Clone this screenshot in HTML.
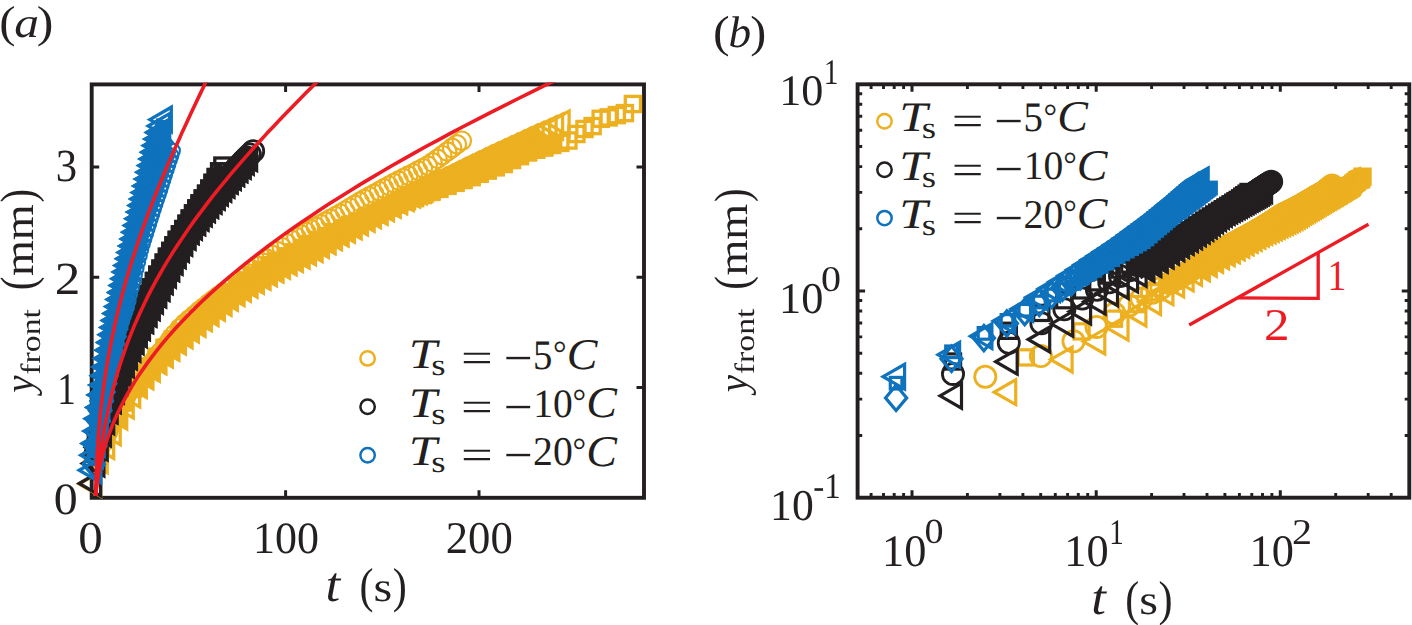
<!DOCTYPE html>
<html><head><meta charset="utf-8"><title>Freezing front</title>
<style>html,body{margin:0;padding:0;background:#fff}svg{display:block}</style>
</head><body>
<svg width="1412" height="625" viewBox="0 0 1412 625">
<defs><g id="mc"><circle r="9.2" stroke-width="2.2"/></g><g id="mC"><circle r="10.6" stroke-width="2.8"/></g><g id="mo"><circle r="6.9" stroke-width="2.1"/></g><g id="ml"><path d="M-13 0L8.5 -12.4L8.5 12.4Z"/></g><g id="ms"><rect x="-7.6" y="-7.6" width="15.2" height="15.2"/></g><g id="mS"><rect x="-5.8" y="-5.8" width="11.6" height="11.6"/></g><g id="mD"><path d="M0 -12.7L10.6 0L0 12.7L-10.6 0Z"/></g></defs>
<rect width="1412" height="625" fill="#fff"/>
<g stroke="#231f20" fill="none">
<rect x="91.7" y="84.4" width="552.3" height="413.4" stroke-width="3.9"/>
<path d="M285.6 497.8v-7.5M285.6 84.4v7.5M479 497.8v-7.5M479 84.4v7.5M91.7 387.5h7.5M644 387.5h-7.5M91.7 277.3h7.5M644 277.3h-7.5M91.7 167h7.5M644 167h-7.5" stroke-width="3"/>
</g>
<g fill="none" stroke="#ecb020" stroke-width="3.3" stroke-linejoin="miter">
<path d="M108.3 427.5L116.4 416.8L124.4 402.5L132.5 389L140.6 376.5L148.7 366.3L156.7 356.9L164.8 348L172.9 339.6L180.9 331.9L189 324.6L197.1 317.7L205.2 310.9L213.2 304.5L221.3 298.2L229.4 292.3L237.4 286.6L245.5 281.1L253.6 275.7L261.7 270.4L269.7 265.4L277.8 260.9L285.9 256.5L293.9 252.3L302 248.1L310.1 244.1L318.2 240.1L326.2 236.2L334.3 232.4L342.4 228.6L350.4 225L358.5 221.4L366.6 217.8L374.7 214.3L382.7 210.9L390.8 207.6L398.9 204.4L406.9 201.1L415 198L423.1 194.9L431.2 191.8L439.2 188.8L447.3 185.8L455.4 182.8L463.4 179.9L471.5 177L479.6 173.7L487.7 170.4L495.7 167.1L503.8 163.9L511.9 159.9L519.9 156L528 152.2L536.1 149.6L544.2 147.3L552.2 145L560.3 142.9" stroke-width="11" stroke-linejoin="round" stroke-linecap="butt"/>
<g fill="#ecb020"><use href="#ms" x="156.7" y="356.9"/><use href="#ms" x="164.8" y="348"/><use href="#ms" x="172.9" y="339.6"/><use href="#ms" x="180.9" y="331.9"/><use href="#ms" x="189" y="324.6"/><use href="#ms" x="197.1" y="317.7"/><use href="#ms" x="205.2" y="310.9"/><use href="#ms" x="213.2" y="304.5"/><use href="#ms" x="221.3" y="298.2"/><use href="#ms" x="229.4" y="292.3"/><use href="#ms" x="237.4" y="286.6"/><use href="#ms" x="245.5" y="281.1"/><use href="#ms" x="253.6" y="275.7"/><use href="#ms" x="261.7" y="270.4"/><use href="#ms" x="269.7" y="265.4"/><use href="#ms" x="277.8" y="260.9"/><use href="#ms" x="285.9" y="256.5"/><use href="#ms" x="293.9" y="252.3"/><use href="#ms" x="302" y="248.1"/><use href="#ms" x="310.1" y="244.1"/><use href="#ms" x="318.2" y="240.1"/><use href="#ms" x="326.2" y="236.2"/><use href="#ms" x="334.3" y="232.4"/><use href="#ms" x="342.4" y="228.6"/><use href="#ms" x="350.4" y="225"/><use href="#ms" x="358.5" y="221.4"/><use href="#ms" x="366.6" y="217.8"/><use href="#ms" x="374.7" y="214.3"/><use href="#ms" x="382.7" y="210.9"/><use href="#ms" x="390.8" y="207.6"/><use href="#ms" x="398.9" y="204.4"/><use href="#ms" x="406.9" y="201.1"/><use href="#ms" x="415" y="198"/><use href="#ms" x="423.1" y="194.9"/><use href="#ms" x="431.2" y="191.8"/><use href="#ms" x="439.2" y="188.8"/><use href="#ms" x="447.3" y="185.8"/><use href="#ms" x="455.4" y="182.8"/><use href="#ms" x="463.4" y="179.9"/><use href="#ms" x="471.5" y="177"/><use href="#ms" x="479.6" y="173.7"/><use href="#ms" x="487.7" y="170.4"/><use href="#ms" x="495.7" y="167.1"/><use href="#ms" x="503.8" y="163.9"/><use href="#ms" x="511.9" y="159.9"/><use href="#ms" x="519.9" y="156"/><use href="#ms" x="528" y="152.2"/><use href="#ms" x="536.1" y="149.6"/><use href="#ms" x="544.2" y="147.3"/></g>
<path d="M98.7 460.3L105.2 445.9L111.7 432.2L118.2 416.5L124.7 405.6L131.2 394.5L137.7 384.7L144.2 376.1L150.7 368.4L157.2 361.1L163.7 354.2L170.2 347.5L176.8 341.2L183.3 335.1L189.8 329.2L196.3 323.5L202.8 318L209.3 312.7L215.8 307.5L222.3 302.4L228.8 297.5L235.3 292.7L241.8 288.4L248.3 284.4L254.8 280.5L261.3 276.6L267.8 272.9L274.3 269.2L280.9 265.6L287.4 262.1L293.9 258.7L300.4 255.3L306.9 251.9L313.4 248.7L319.9 244.8L326.4 241L332.9 237.1L339.4 233.3L345.9 229.6L352.4 225.9L358.9 222.2L365.4 218.6L371.9 215L378.4 211.5L384.9 208L391.5 204.5L398 201.1L404.5 197.7L411 194.3L417.5 191L424 187.7L430.5 184.4L437 181.1L443.5 177.9L450 174.7L456.5 171.6L463 168.4L469.5 165.3L476 162.2L482.5 159.1L489 156.1L495.6 153.1L502.1 150L508.6 147L515.1 144L521.6 141L528.1 138.1L534.6 135.1L541.1 132.2" stroke-width="13" stroke-linejoin="round" stroke-linecap="butt"/>
<g fill="#ecb020"><use href="#ml" x="137.7" y="384.7"/><use href="#ml" x="144.2" y="376.1"/><use href="#ml" x="150.7" y="368.4"/><use href="#ml" x="157.2" y="361.1"/><use href="#ml" x="163.7" y="354.2"/><use href="#ml" x="170.2" y="347.5"/><use href="#ml" x="176.8" y="341.2"/><use href="#ml" x="183.3" y="335.1"/><use href="#ml" x="189.8" y="329.2"/><use href="#ml" x="196.3" y="323.5"/><use href="#ml" x="202.8" y="318"/><use href="#ml" x="209.3" y="312.7"/><use href="#ml" x="215.8" y="307.5"/><use href="#ml" x="222.3" y="302.4"/><use href="#ml" x="228.8" y="297.5"/><use href="#ml" x="235.3" y="292.7"/><use href="#ml" x="241.8" y="288.4"/><use href="#ml" x="248.3" y="284.4"/><use href="#ml" x="254.8" y="280.5"/><use href="#ml" x="261.3" y="276.6"/><use href="#ml" x="267.8" y="272.9"/><use href="#ml" x="274.3" y="269.2"/><use href="#ml" x="280.9" y="265.6"/><use href="#ml" x="287.4" y="262.1"/><use href="#ml" x="293.9" y="258.7"/><use href="#ml" x="300.4" y="255.3"/><use href="#ml" x="306.9" y="251.9"/><use href="#ml" x="313.4" y="248.7"/><use href="#ml" x="319.9" y="244.8"/><use href="#ml" x="326.4" y="241"/><use href="#ml" x="332.9" y="237.1"/><use href="#ml" x="339.4" y="233.3"/><use href="#ml" x="345.9" y="229.6"/><use href="#ml" x="352.4" y="225.9"/><use href="#ml" x="358.9" y="222.2"/><use href="#ml" x="365.4" y="218.6"/><use href="#ml" x="371.9" y="215"/><use href="#ml" x="378.4" y="211.5"/><use href="#ml" x="384.9" y="208"/><use href="#ml" x="391.5" y="204.5"/><use href="#ml" x="398" y="201.1"/><use href="#ml" x="404.5" y="197.7"/><use href="#ml" x="411" y="194.3"/><use href="#ml" x="417.5" y="191"/><use href="#ml" x="424" y="187.7"/><use href="#ml" x="430.5" y="184.4"/><use href="#ml" x="437" y="181.1"/><use href="#ml" x="443.5" y="177.9"/><use href="#ml" x="450" y="174.7"/><use href="#ml" x="456.5" y="171.6"/><use href="#ml" x="463" y="168.4"/><use href="#ml" x="469.5" y="165.3"/><use href="#ml" x="476" y="162.2"/><use href="#ml" x="482.5" y="159.1"/><use href="#ml" x="489" y="156.1"/><use href="#ml" x="495.6" y="153.1"/><use href="#ml" x="502.1" y="150"/><use href="#ml" x="508.6" y="147"/><use href="#ml" x="515.1" y="144"/><use href="#ml" x="521.6" y="141"/><use href="#ml" x="528.1" y="138.1"/></g>
<use href="#ms" x="100.2" y="445.2"/><use href="#ms" x="108.3" y="427.5"/><use href="#ms" x="116.4" y="416.8"/><use href="#ms" x="124.4" y="402.5"/><use href="#ms" x="132.5" y="389"/><use href="#ms" x="140.6" y="376.5"/><use href="#ms" x="148.7" y="366.3"/><use href="#ms" x="156.7" y="356.9"/><use href="#ms" x="164.8" y="348"/><use href="#ms" x="172.9" y="339.6"/><use href="#ms" x="180.9" y="331.9"/><use href="#ms" x="189" y="324.6"/><use href="#ms" x="197.1" y="317.7"/><use href="#ms" x="205.2" y="310.9"/><use href="#ms" x="213.2" y="304.5"/><use href="#ms" x="221.3" y="298.2"/><use href="#ms" x="229.4" y="292.3"/><use href="#ms" x="237.4" y="286.6"/><use href="#ms" x="245.5" y="281.1"/><use href="#ms" x="253.6" y="275.7"/><use href="#ms" x="261.7" y="270.4"/><use href="#ms" x="269.7" y="265.4"/><use href="#ms" x="277.8" y="260.9"/><use href="#ms" x="285.9" y="256.5"/><use href="#ms" x="293.9" y="252.3"/><use href="#ms" x="302" y="248.1"/><use href="#ms" x="310.1" y="244.1"/><use href="#ms" x="318.2" y="240.1"/><use href="#ms" x="326.2" y="236.2"/><use href="#ms" x="334.3" y="232.4"/><use href="#ms" x="342.4" y="228.6"/><use href="#ms" x="350.4" y="225"/><use href="#ms" x="358.5" y="221.4"/><use href="#ms" x="366.6" y="217.8"/><use href="#ms" x="374.7" y="214.3"/><use href="#ms" x="382.7" y="210.9"/><use href="#ms" x="390.8" y="207.6"/><use href="#ms" x="398.9" y="204.4"/><use href="#ms" x="406.9" y="201.1"/><use href="#ms" x="415" y="198"/><use href="#ms" x="423.1" y="194.9"/><use href="#ms" x="431.2" y="191.8"/><use href="#ms" x="439.2" y="188.8"/><use href="#ms" x="447.3" y="185.8"/><use href="#ms" x="455.4" y="182.8"/><use href="#ms" x="463.4" y="179.9"/><use href="#ms" x="471.5" y="177"/><use href="#ms" x="479.6" y="173.7"/><use href="#ms" x="487.7" y="170.4"/><use href="#ms" x="495.7" y="167.1"/><use href="#ms" x="503.8" y="163.9"/><use href="#ms" x="511.9" y="159.9"/><use href="#ms" x="519.9" y="156"/><use href="#ms" x="528" y="152.2"/><use href="#ms" x="536.1" y="149.6"/><use href="#ms" x="544.2" y="147.3"/><use href="#ms" x="552.2" y="145"/><use href="#ms" x="560.3" y="142.9"/><use href="#ms" x="568.4" y="140.5"/><use href="#ms" x="576.4" y="134"/><use href="#ms" x="584.5" y="129"/><use href="#ms" x="592.6" y="126.1"/><use href="#ms" x="600.7" y="118.8"/><use href="#ms" x="608.7" y="117.4"/><use href="#ms" x="616.8" y="115.1"/><use href="#ms" x="624.9" y="113.1"/><use href="#ms" x="632.9" y="104"/>
<use href="#ml" x="92.2" y="484"/><use href="#ml" x="98.7" y="460.3"/><use href="#ml" x="105.2" y="445.9"/><use href="#ml" x="111.7" y="432.2"/><use href="#ml" x="118.2" y="416.5"/><use href="#ml" x="124.7" y="405.6"/><use href="#ml" x="131.2" y="394.5"/><use href="#ml" x="137.7" y="384.7"/><use href="#ml" x="144.2" y="376.1"/><use href="#ml" x="150.7" y="368.4"/><use href="#ml" x="157.2" y="361.1"/><use href="#ml" x="163.7" y="354.2"/><use href="#ml" x="170.2" y="347.5"/><use href="#ml" x="176.8" y="341.2"/><use href="#ml" x="183.3" y="335.1"/><use href="#ml" x="189.8" y="329.2"/><use href="#ml" x="196.3" y="323.5"/><use href="#ml" x="202.8" y="318"/><use href="#ml" x="209.3" y="312.7"/><use href="#ml" x="215.8" y="307.5"/><use href="#ml" x="222.3" y="302.4"/><use href="#ml" x="228.8" y="297.5"/><use href="#ml" x="235.3" y="292.7"/><use href="#ml" x="241.8" y="288.4"/><use href="#ml" x="248.3" y="284.4"/><use href="#ml" x="254.8" y="280.5"/><use href="#ml" x="261.3" y="276.6"/><use href="#ml" x="267.8" y="272.9"/><use href="#ml" x="274.3" y="269.2"/><use href="#ml" x="280.9" y="265.6"/><use href="#ml" x="287.4" y="262.1"/><use href="#ml" x="293.9" y="258.7"/><use href="#ml" x="300.4" y="255.3"/><use href="#ml" x="306.9" y="251.9"/><use href="#ml" x="313.4" y="248.7"/><use href="#ml" x="319.9" y="244.8"/><use href="#ml" x="326.4" y="241"/><use href="#ml" x="332.9" y="237.1"/><use href="#ml" x="339.4" y="233.3"/><use href="#ml" x="345.9" y="229.6"/><use href="#ml" x="352.4" y="225.9"/><use href="#ml" x="358.9" y="222.2"/><use href="#ml" x="365.4" y="218.6"/><use href="#ml" x="371.9" y="215"/><use href="#ml" x="378.4" y="211.5"/><use href="#ml" x="384.9" y="208"/><use href="#ml" x="391.5" y="204.5"/><use href="#ml" x="398" y="201.1"/><use href="#ml" x="404.5" y="197.7"/><use href="#ml" x="411" y="194.3"/><use href="#ml" x="417.5" y="191"/><use href="#ml" x="424" y="187.7"/><use href="#ml" x="430.5" y="184.4"/><use href="#ml" x="437" y="181.1"/><use href="#ml" x="443.5" y="177.9"/><use href="#ml" x="450" y="174.7"/><use href="#ml" x="456.5" y="171.6"/><use href="#ml" x="463" y="168.4"/><use href="#ml" x="469.5" y="165.3"/><use href="#ml" x="476" y="162.2"/><use href="#ml" x="482.5" y="159.1"/><use href="#ml" x="489" y="156.1"/><use href="#ml" x="495.6" y="153.1"/><use href="#ml" x="502.1" y="150"/><use href="#ml" x="508.6" y="147"/><use href="#ml" x="515.1" y="144"/><use href="#ml" x="521.6" y="141"/><use href="#ml" x="528.1" y="138.1"/><use href="#ml" x="534.6" y="135.1"/><use href="#ml" x="541.1" y="132.2"/><use href="#ml" x="547.6" y="129.3"/><use href="#ml" x="554.1" y="126.4"/><use href="#ml" x="560.6" y="123.5"/>
<use href="#mc" x="97" y="455.3"/><use href="#mc" x="101.9" y="444.4"/><use href="#mc" x="106.8" y="434.8"/><use href="#mc" x="111.6" y="423.9"/><use href="#mc" x="116.5" y="411.9"/><use href="#mc" x="121.4" y="403.9"/><use href="#mc" x="126.2" y="396.6"/><use href="#mc" x="131.1" y="389.7"/><use href="#mc" x="135.9" y="383.3"/><use href="#mc" x="140.8" y="377.3"/><use href="#mc" x="145.7" y="370.7"/><use href="#mc" x="150.5" y="364.3"/><use href="#mc" x="155.4" y="358.2"/><use href="#mc" x="160.3" y="352.3"/><use href="#mc" x="165.1" y="346.1"/><use href="#mc" x="170" y="340"/><use href="#mc" x="174.8" y="334.1"/><use href="#mc" x="179.7" y="328.4"/><use href="#mc" x="184.6" y="323.6"/><use href="#mc" x="189.4" y="319.4"/><use href="#mc" x="194.3" y="315.2"/><use href="#mc" x="199.2" y="311.1"/><use href="#mc" x="204" y="307.2"/><use href="#mc" x="208.9" y="303.3"/><use href="#mc" x="213.8" y="299.5"/><use href="#mc" x="218.6" y="295.8"/><use href="#mc" x="223.5" y="292.2"/><use href="#mc" x="228.3" y="288.6"/><use href="#mc" x="233.2" y="284.7"/><use href="#mc" x="238.1" y="280.9"/><use href="#mc" x="242.9" y="277.1"/><use href="#mc" x="247.8" y="273.3"/><use href="#mc" x="252.7" y="269.7"/><use href="#mc" x="257.5" y="266"/><use href="#mc" x="262.4" y="262.5"/><use href="#mc" x="267.3" y="258.8"/><use href="#mc" x="272.1" y="254.9"/><use href="#mc" x="277" y="251"/><use href="#mc" x="281.8" y="247.1"/><use href="#mc" x="286.7" y="243.4"/><use href="#mc" x="291.6" y="239.8"/><use href="#mc" x="296.4" y="237.1"/><use href="#mc" x="301.3" y="234.5"/><use href="#mc" x="306.2" y="231.9"/><use href="#mc" x="311" y="229.4"/><use href="#mc" x="315.9" y="226.9"/><use href="#mc" x="320.7" y="224.2"/><use href="#mc" x="325.6" y="221.5"/><use href="#mc" x="330.5" y="218.8"/><use href="#mc" x="335.3" y="216.2"/><use href="#mc" x="340.2" y="213.5"/><use href="#mc" x="345.1" y="210.7"/><use href="#mc" x="349.9" y="207.7"/><use href="#mc" x="354.8" y="204.8"/><use href="#mc" x="359.7" y="201.9"/><use href="#mc" x="364.5" y="199.1"/><use href="#mc" x="369.4" y="196.4"/><use href="#mc" x="374.2" y="193.8"/><use href="#mc" x="379.1" y="191.1"/><use href="#mc" x="384" y="188.4"/><use href="#mc" x="388.8" y="185.7"/><use href="#mc" x="393.7" y="183"/><use href="#mc" x="398.6" y="180.5"/><use href="#mc" x="403.4" y="178.1"/><use href="#mc" x="408.3" y="175.6"/><use href="#mc" x="413.2" y="173.2"/><use href="#mc" x="418" y="170.6"/><use href="#mc" x="422.9" y="168.1"/><use href="#mc" x="427.7" y="165.6"/><use href="#mc" x="432.6" y="162.4"/><use href="#mc" x="437.5" y="158.8"/><use href="#mc" x="442.3" y="155.2"/><use href="#mc" x="447.2" y="151.5"/><use href="#mc" x="452.1" y="147.9"/><use href="#mc" x="456.9" y="144.3"/><use href="#mc" x="461.8" y="140.7"/>
</g>
<g fill="none" stroke="#231f20" stroke-width="3.3" stroke-linejoin="miter">
<path d="M95.4 463.5L98.7 447.6L101.9 433.6L105.2 421.3L108.4 410.2L111.7 399.9L114.9 390.3L118.2 381.2L121.4 372.5L124.7 364.2L127.9 356.3L131.2 348.6L134.4 341.1L137.7 333.9L140.9 326.9L144.1 320.1L147.4 313.4L150.6 306.9L153.9 300.5L157.1 294.2L160.4 287.8L163.6 281.1L166.9 274.5L170.1 267.9L173.4 261.5L176.6 255.1L179.9 248.8L183.1 242.6L186.4 236.5L189.6 231L192.9 226.5L196.1 222L199.4 217.6L202.6 213.3L205.9 209L209.1 204.8L212.4 200.6L215.6 196.5L218.8 192.5L222.1 188.5L225.3 184.5L228.6 180.6L231.8 176.7L235.1 172.9L238.3 169.1L241.6 165.4L244.8 161.7L248.1 158.1" stroke-width="13" stroke-linejoin="round" stroke-linecap="butt"/>
<g fill="#231f20"><use href="#ml" x="108.4" y="410.2"/><use href="#ml" x="111.7" y="399.9"/><use href="#ml" x="114.9" y="390.3"/><use href="#ml" x="118.2" y="381.2"/><use href="#ml" x="121.4" y="372.5"/><use href="#ml" x="124.7" y="364.2"/><use href="#ml" x="127.9" y="356.3"/><use href="#ml" x="131.2" y="348.6"/><use href="#ml" x="134.4" y="341.1"/><use href="#ml" x="137.7" y="333.9"/><use href="#ml" x="140.9" y="326.9"/><use href="#ml" x="144.1" y="320.1"/><use href="#ml" x="147.4" y="313.4"/><use href="#ml" x="150.6" y="306.9"/><use href="#ml" x="153.9" y="300.5"/><use href="#ml" x="157.1" y="294.2"/><use href="#ml" x="160.4" y="287.8"/><use href="#ml" x="163.6" y="281.1"/><use href="#ml" x="166.9" y="274.5"/><use href="#ml" x="170.1" y="267.9"/><use href="#ml" x="173.4" y="261.5"/><use href="#ml" x="176.6" y="255.1"/><use href="#ml" x="179.9" y="248.8"/><use href="#ml" x="183.1" y="242.6"/><use href="#ml" x="186.4" y="236.5"/><use href="#ml" x="189.6" y="231"/><use href="#ml" x="192.9" y="226.5"/><use href="#ml" x="196.1" y="222"/><use href="#ml" x="199.4" y="217.6"/><use href="#ml" x="202.6" y="213.3"/><use href="#ml" x="205.9" y="209"/><use href="#ml" x="209.1" y="204.8"/><use href="#ml" x="212.4" y="200.6"/><use href="#ml" x="215.6" y="196.5"/><use href="#ml" x="218.8" y="192.5"/><use href="#ml" x="222.1" y="188.5"/><use href="#ml" x="225.3" y="184.5"/><use href="#ml" x="228.6" y="180.6"/><use href="#ml" x="231.8" y="176.7"/><use href="#ml" x="235.1" y="172.9"/><use href="#ml" x="238.3" y="169.1"/><use href="#ml" x="241.6" y="165.4"/></g>
<path d="M98.7 427L101.9 411.4L105.2 398.3L108.4 386.7L111.7 376.3L115 366.8L118.2 357.9L121.5 349.6L124.7 341.7L128 334.3L131.2 327.1L134.5 320.3L137.7 313.7L141 307.4L144.2 300.7L147.5 294L150.8 287.4L154 281L157.3 274.8L160.5 268.7L163.8 262.7L167 256.8L170.3 251L173.5 245.4L176.8 239.9L180 234.4L183.3 229.1L186.6 223.8L189.8 218.6L193.1 213.5L196.3 208.5L199.6 203.5L202.8 198.6L206.1 193.8L209.3 188.7L212.6 182.9L215.8 177.1L219.1 171.3L222.4 165.6" stroke-width="11" stroke-linejoin="round" stroke-linecap="butt"/>
<g fill="#231f20"><use href="#ms" x="108.4" y="386.7"/><use href="#ms" x="111.7" y="376.3"/><use href="#ms" x="115" y="366.8"/><use href="#ms" x="118.2" y="357.9"/><use href="#ms" x="121.5" y="349.6"/><use href="#ms" x="124.7" y="341.7"/><use href="#ms" x="128" y="334.3"/><use href="#ms" x="131.2" y="327.1"/><use href="#ms" x="134.5" y="320.3"/><use href="#ms" x="137.7" y="313.7"/><use href="#ms" x="141" y="307.4"/><use href="#ms" x="144.2" y="300.7"/><use href="#ms" x="147.5" y="294"/><use href="#ms" x="150.8" y="287.4"/><use href="#ms" x="154" y="281"/><use href="#ms" x="157.3" y="274.8"/><use href="#ms" x="160.5" y="268.7"/><use href="#ms" x="163.8" y="262.7"/><use href="#ms" x="167" y="256.8"/><use href="#ms" x="170.3" y="251"/><use href="#ms" x="173.5" y="245.4"/><use href="#ms" x="176.8" y="239.9"/><use href="#ms" x="180" y="234.4"/><use href="#ms" x="183.3" y="229.1"/><use href="#ms" x="186.6" y="223.8"/><use href="#ms" x="189.8" y="218.6"/><use href="#ms" x="193.1" y="213.5"/><use href="#ms" x="196.3" y="208.5"/><use href="#ms" x="199.6" y="203.5"/><use href="#ms" x="202.8" y="198.6"/><use href="#ms" x="206.1" y="193.8"/><use href="#ms" x="209.3" y="188.7"/><use href="#ms" x="212.6" y="182.9"/><use href="#ms" x="215.8" y="177.1"/></g>
<path d="M98.6 436.1L101.9 421.1L105.1 408.4L108.3 397L111.5 386.6L114.7 377L118 368L121.2 359.6L124.4 351.5L127.6 343.9L130.8 336.5L134 329.4L137.3 322.6L140.5 316L143.7 309.6L146.9 303.3L150.1 297.3L153.4 290.8L156.6 284.4L159.8 278.2L163 272.1L166.2 266.1L169.4 260.2L172.7 254.4L175.9 248.7L179.1 243.1L182.3 237.6L185.5 232.1L188.8 226.8L192 222.4L195.2 218.1L198.4 213.8L201.6 209.6L204.8 205.5L208.1 201.5L211.3 197.5L214.5 193.5L217.7 189.6L220.9 185.8L224.1 182L227.4 178.3L230.6 174.7L233.8 171.3L237 167.8L240.2 164.4L243.5 161.1L246.7 157.7L249.9 154.5L253.1 151.2" stroke-width="14" stroke-linejoin="round" stroke-linecap="butt"/>
<g fill="#231f20"><use href="#mC" x="108.3" y="397"/><use href="#mC" x="111.5" y="386.6"/><use href="#mC" x="114.7" y="377"/><use href="#mC" x="118" y="368"/><use href="#mC" x="121.2" y="359.6"/><use href="#mC" x="124.4" y="351.5"/><use href="#mC" x="127.6" y="343.9"/><use href="#mC" x="130.8" y="336.5"/><use href="#mC" x="134" y="329.4"/><use href="#mC" x="137.3" y="322.6"/><use href="#mC" x="140.5" y="316"/><use href="#mC" x="143.7" y="309.6"/><use href="#mC" x="146.9" y="303.3"/><use href="#mC" x="150.1" y="297.3"/><use href="#mC" x="153.4" y="290.8"/><use href="#mC" x="156.6" y="284.4"/><use href="#mC" x="159.8" y="278.2"/><use href="#mC" x="163" y="272.1"/><use href="#mC" x="166.2" y="266.1"/><use href="#mC" x="169.4" y="260.2"/><use href="#mC" x="172.7" y="254.4"/><use href="#mC" x="175.9" y="248.7"/><use href="#mC" x="179.1" y="243.1"/><use href="#mC" x="182.3" y="237.6"/><use href="#mC" x="185.5" y="232.1"/><use href="#mC" x="188.8" y="226.8"/><use href="#mC" x="192" y="222.4"/><use href="#mC" x="195.2" y="218.1"/><use href="#mC" x="198.4" y="213.8"/><use href="#mC" x="201.6" y="209.6"/><use href="#mC" x="204.8" y="205.5"/><use href="#mC" x="208.1" y="201.5"/><use href="#mC" x="211.3" y="197.5"/><use href="#mC" x="214.5" y="193.5"/><use href="#mC" x="217.7" y="189.6"/><use href="#mC" x="220.9" y="185.8"/><use href="#mC" x="224.1" y="182"/><use href="#mC" x="227.4" y="178.3"/><use href="#mC" x="230.6" y="174.7"/><use href="#mC" x="233.8" y="171.3"/><use href="#mC" x="237" y="167.8"/><use href="#mC" x="240.2" y="164.4"/><use href="#mC" x="243.5" y="161.1"/><use href="#mC" x="246.7" y="157.7"/></g>
<use href="#ml" x="92.2" y="483.5"/><use href="#ml" x="95.4" y="463.5"/><use href="#ml" x="98.7" y="447.6"/><use href="#ml" x="101.9" y="433.6"/><use href="#ml" x="105.2" y="421.3"/><use href="#ml" x="108.4" y="410.2"/><use href="#ml" x="111.7" y="399.9"/><use href="#ml" x="114.9" y="390.3"/><use href="#ml" x="118.2" y="381.2"/><use href="#ml" x="121.4" y="372.5"/><use href="#ml" x="124.7" y="364.2"/><use href="#ml" x="127.9" y="356.3"/><use href="#ml" x="131.2" y="348.6"/><use href="#ml" x="134.4" y="341.1"/><use href="#ml" x="137.7" y="333.9"/><use href="#ml" x="140.9" y="326.9"/><use href="#ml" x="144.1" y="320.1"/><use href="#ml" x="147.4" y="313.4"/><use href="#ml" x="150.6" y="306.9"/><use href="#ml" x="153.9" y="300.5"/><use href="#ml" x="157.1" y="294.2"/><use href="#ml" x="160.4" y="287.8"/><use href="#ml" x="163.6" y="281.1"/><use href="#ml" x="166.9" y="274.5"/><use href="#ml" x="170.1" y="267.9"/><use href="#ml" x="173.4" y="261.5"/><use href="#ml" x="176.6" y="255.1"/><use href="#ml" x="179.9" y="248.8"/><use href="#ml" x="183.1" y="242.6"/><use href="#ml" x="186.4" y="236.5"/><use href="#ml" x="189.6" y="231"/><use href="#ml" x="192.9" y="226.5"/><use href="#ml" x="196.1" y="222"/><use href="#ml" x="199.4" y="217.6"/><use href="#ml" x="202.6" y="213.3"/><use href="#ml" x="205.9" y="209"/><use href="#ml" x="209.1" y="204.8"/><use href="#ml" x="212.4" y="200.6"/><use href="#ml" x="215.6" y="196.5"/><use href="#ml" x="218.8" y="192.5"/><use href="#ml" x="222.1" y="188.5"/><use href="#ml" x="225.3" y="184.5"/><use href="#ml" x="228.6" y="180.6"/><use href="#ml" x="231.8" y="176.7"/><use href="#ml" x="235.1" y="172.9"/><use href="#ml" x="238.3" y="169.1"/><use href="#ml" x="241.6" y="165.4"/><use href="#ml" x="244.8" y="161.7"/><use href="#ml" x="248.1" y="158.1"/>
<use href="#ms" x="95.4" y="447.5"/><use href="#ms" x="98.7" y="427"/><use href="#ms" x="101.9" y="411.4"/><use href="#ms" x="105.2" y="398.3"/><use href="#ms" x="108.4" y="386.7"/><use href="#ms" x="111.7" y="376.3"/><use href="#ms" x="115" y="366.8"/><use href="#ms" x="118.2" y="357.9"/><use href="#ms" x="121.5" y="349.6"/><use href="#ms" x="124.7" y="341.7"/><use href="#ms" x="128" y="334.3"/><use href="#ms" x="131.2" y="327.1"/><use href="#ms" x="134.5" y="320.3"/><use href="#ms" x="137.7" y="313.7"/><use href="#ms" x="141" y="307.4"/><use href="#ms" x="144.2" y="300.7"/><use href="#ms" x="147.5" y="294"/><use href="#ms" x="150.8" y="287.4"/><use href="#ms" x="154" y="281"/><use href="#ms" x="157.3" y="274.8"/><use href="#ms" x="160.5" y="268.7"/><use href="#ms" x="163.8" y="262.7"/><use href="#ms" x="167" y="256.8"/><use href="#ms" x="170.3" y="251"/><use href="#ms" x="173.5" y="245.4"/><use href="#ms" x="176.8" y="239.9"/><use href="#ms" x="180" y="234.4"/><use href="#ms" x="183.3" y="229.1"/><use href="#ms" x="186.6" y="223.8"/><use href="#ms" x="189.8" y="218.6"/><use href="#ms" x="193.1" y="213.5"/><use href="#ms" x="196.3" y="208.5"/><use href="#ms" x="199.6" y="203.5"/><use href="#ms" x="202.8" y="198.6"/><use href="#ms" x="206.1" y="193.8"/><use href="#ms" x="209.3" y="188.7"/><use href="#ms" x="212.6" y="182.9"/><use href="#ms" x="215.8" y="177.1"/><use href="#ms" x="219.1" y="171.3"/><use href="#ms" x="222.4" y="165.6"/>
<use href="#mC" x="95.4" y="454"/><use href="#mC" x="98.6" y="436.1"/><use href="#mC" x="101.9" y="421.1"/><use href="#mC" x="105.1" y="408.4"/><use href="#mC" x="108.3" y="397"/><use href="#mC" x="111.5" y="386.6"/><use href="#mC" x="114.7" y="377"/><use href="#mC" x="118" y="368"/><use href="#mC" x="121.2" y="359.6"/><use href="#mC" x="124.4" y="351.5"/><use href="#mC" x="127.6" y="343.9"/><use href="#mC" x="130.8" y="336.5"/><use href="#mC" x="134" y="329.4"/><use href="#mC" x="137.3" y="322.6"/><use href="#mC" x="140.5" y="316"/><use href="#mC" x="143.7" y="309.6"/><use href="#mC" x="146.9" y="303.3"/><use href="#mC" x="150.1" y="297.3"/><use href="#mC" x="153.4" y="290.8"/><use href="#mC" x="156.6" y="284.4"/><use href="#mC" x="159.8" y="278.2"/><use href="#mC" x="163" y="272.1"/><use href="#mC" x="166.2" y="266.1"/><use href="#mC" x="169.4" y="260.2"/><use href="#mC" x="172.7" y="254.4"/><use href="#mC" x="175.9" y="248.7"/><use href="#mC" x="179.1" y="243.1"/><use href="#mC" x="182.3" y="237.6"/><use href="#mC" x="185.5" y="232.1"/><use href="#mC" x="188.8" y="226.8"/><use href="#mC" x="192" y="222.4"/><use href="#mC" x="195.2" y="218.1"/><use href="#mC" x="198.4" y="213.8"/><use href="#mC" x="201.6" y="209.6"/><use href="#mC" x="204.8" y="205.5"/><use href="#mC" x="208.1" y="201.5"/><use href="#mC" x="211.3" y="197.5"/><use href="#mC" x="214.5" y="193.5"/><use href="#mC" x="217.7" y="189.6"/><use href="#mC" x="220.9" y="185.8"/><use href="#mC" x="224.1" y="182"/><use href="#mC" x="227.4" y="178.3"/><use href="#mC" x="230.6" y="174.7"/><use href="#mC" x="233.8" y="171.3"/><use href="#mC" x="237" y="167.8"/><use href="#mC" x="240.2" y="164.4"/><use href="#mC" x="243.5" y="161.1"/><use href="#mC" x="246.7" y="157.7"/><use href="#mC" x="249.9" y="154.5"/><use href="#mC" x="253.1" y="151.2"/>
</g>
<g fill="none" stroke="#0f72bd" stroke-width="3.3" stroke-linejoin="miter">
<path d="M93.8 458.3L95.4 441.8L97 429L98.5 418.3L100.1 408.8L101.7 400.2L103.3 392.3L104.9 384.9L106.5 378L108.1 371.5L109.6 365.1L111.2 358.9L112.8 352.9L114.4 347.2L116 341.6L117.6 336.2L119.1 331L120.7 325.9L122.3 320.9L123.9 316.1L125.5 311.4L127.1 306.8L128.7 300.8L130.2 294.2L131.8 287.7L133.4 281.3L135 274.9L136.6 268.5L138.2 262.2L139.8 256L141.3 249.8L142.9 244.2L144.5 239L146.1 233.9L147.7 228.8L149.3 223.8L150.8 218.8L152.4 213.9L154 209L155.6 204.1L157.2 199.3L158.8 194.5L160.4 189.8L161.9 184.8L163.5 179.8L165.1 174.8L166.7 169.9L168.3 165L169.9 160.2L171.5 155.4L173 150.6" stroke-width="7" stroke-linejoin="round" stroke-linecap="butt"/>
<path d="M95.4 446L97 432.6L98.5 420.9L100.1 410.5L101.7 401L103.3 392.1L104.9 383.7L106.4 375.8L108 368L109.6 359.8L111.2 351.8L112.8 344.1L114.4 336.6L115.9 329.2L117.5 322L119.1 315L120.7 308.2L122.3 301.2L123.8 294.2L125.4 287.3L127 280.5L128.6 273.8L130.2 267.2L131.8 260.7L133.3 254.2L134.9 247.8L136.5 241.2L138.1 234.7L139.7 228.2L141.3 221.8L142.8 215.4L144.4 209.1L146 202.8L147.6 196.6L149.2 190.5L150.7 184.4L152.3 178.3L153.9 172.3L155.5 166.3L157.1 160.3L158.7 154.4L160.2 148.6L161.8 142.7" stroke-width="11" stroke-linejoin="round" stroke-linecap="butt"/>
<g fill="#0f72bd"><use href="#mD" x="98.5" y="420.9"/><use href="#mD" x="100.1" y="410.5"/><use href="#mD" x="101.7" y="401"/><use href="#mD" x="103.3" y="392.1"/><use href="#mD" x="104.9" y="383.7"/><use href="#mD" x="106.4" y="375.8"/><use href="#mD" x="108" y="368"/><use href="#mD" x="109.6" y="359.8"/><use href="#mD" x="111.2" y="351.8"/><use href="#mD" x="112.8" y="344.1"/><use href="#mD" x="114.4" y="336.6"/><use href="#mD" x="115.9" y="329.2"/><use href="#mD" x="117.5" y="322"/><use href="#mD" x="119.1" y="315"/><use href="#mD" x="120.7" y="308.2"/><use href="#mD" x="122.3" y="301.2"/><use href="#mD" x="123.8" y="294.2"/><use href="#mD" x="125.4" y="287.3"/><use href="#mD" x="127" y="280.5"/><use href="#mD" x="128.6" y="273.8"/><use href="#mD" x="130.2" y="267.2"/><use href="#mD" x="131.8" y="260.7"/><use href="#mD" x="133.3" y="254.2"/><use href="#mD" x="134.9" y="247.8"/><use href="#mD" x="136.5" y="241.2"/><use href="#mD" x="138.1" y="234.7"/><use href="#mD" x="139.7" y="228.2"/><use href="#mD" x="141.3" y="221.8"/><use href="#mD" x="142.8" y="215.4"/><use href="#mD" x="144.4" y="209.1"/><use href="#mD" x="146" y="202.8"/><use href="#mD" x="147.6" y="196.6"/><use href="#mD" x="149.2" y="190.5"/><use href="#mD" x="150.7" y="184.4"/><use href="#mD" x="152.3" y="178.3"/><use href="#mD" x="153.9" y="172.3"/><use href="#mD" x="155.5" y="166.3"/><use href="#mD" x="157.1" y="160.3"/><use href="#mD" x="158.7" y="154.4"/></g>
<path d="M93.8 455.3L95.4 443.5L96.9 431.1L98.5 418.8L100.1 407.4L101.6 395L103.2 385.1L104.8 375.7L106.3 366.9L107.9 358.4L109.5 350.3L111 342.4L112.6 334.8L114.2 327.5L115.7 320.4L117.3 313.4L118.9 306.6L120.4 299.5L122 292.5L123.6 285.5L125.2 278.7L126.7 272L128.3 265.4L129.9 258.8L131.4 252.4L133 245.9L134.6 239L136.1 232.2L137.7 225.4L139.3 218.8L140.8 212.1L142.4 205.5L144 199L145.5 192.6L147.1 185.9L148.7 179.1L150.2 172.3L151.8 165.6L153.4 158.9L154.9 152.2L156.5 145.6L158.1 139.1L159.7 132.5L161.2 126L162.8 119.6" stroke-width="13" stroke-linejoin="round" stroke-linecap="butt"/>
<g fill="#0f72bd"><use href="#ml" x="95.4" y="443.5"/><use href="#ml" x="98.5" y="418.8"/><use href="#ml" x="100.1" y="407.4"/><use href="#ml" x="101.6" y="395"/><use href="#ml" x="103.2" y="385.1"/><use href="#ml" x="104.8" y="375.7"/><use href="#ml" x="106.3" y="366.9"/><use href="#ml" x="107.9" y="358.4"/><use href="#ml" x="109.5" y="350.3"/><use href="#ml" x="111" y="342.4"/><use href="#ml" x="112.6" y="334.8"/><use href="#ml" x="114.2" y="327.5"/><use href="#ml" x="115.7" y="320.4"/><use href="#ml" x="117.3" y="313.4"/><use href="#ml" x="118.9" y="306.6"/><use href="#ml" x="120.4" y="299.5"/><use href="#ml" x="122" y="292.5"/><use href="#ml" x="123.6" y="285.5"/><use href="#ml" x="125.2" y="278.7"/><use href="#ml" x="126.7" y="272"/><use href="#ml" x="128.3" y="265.4"/><use href="#ml" x="129.9" y="258.8"/><use href="#ml" x="131.4" y="252.4"/><use href="#ml" x="133" y="245.9"/><use href="#ml" x="134.6" y="239"/><use href="#ml" x="136.1" y="232.2"/><use href="#ml" x="137.7" y="225.4"/><use href="#ml" x="139.3" y="218.8"/><use href="#ml" x="140.8" y="212.1"/><use href="#ml" x="142.4" y="205.5"/><use href="#ml" x="144" y="199"/><use href="#ml" x="145.5" y="192.6"/><use href="#ml" x="147.1" y="185.9"/><use href="#ml" x="148.7" y="179.1"/><use href="#ml" x="150.2" y="172.3"/><use href="#ml" x="151.8" y="165.6"/><use href="#ml" x="153.4" y="158.9"/><use href="#ml" x="154.9" y="152.2"/><use href="#ml" x="156.5" y="145.6"/><use href="#ml" x="158.1" y="139.1"/><use href="#ml" x="159.7" y="132.5"/></g>
<use href="#mo" x="93.8" y="458.3"/><use href="#mo" x="95.4" y="441.8"/><use href="#mo" x="97" y="429"/><use href="#mo" x="98.5" y="418.3"/><use href="#mo" x="100.1" y="408.8"/><use href="#mo" x="101.7" y="400.2"/><use href="#mo" x="103.3" y="392.3"/><use href="#mo" x="104.9" y="384.9"/><use href="#mo" x="106.5" y="378"/><use href="#mo" x="108.1" y="371.5"/><use href="#mo" x="109.6" y="365.1"/><use href="#mo" x="111.2" y="358.9"/><use href="#mo" x="112.8" y="352.9"/><use href="#mo" x="114.4" y="347.2"/><use href="#mo" x="116" y="341.6"/><use href="#mo" x="117.6" y="336.2"/><use href="#mo" x="119.1" y="331"/><use href="#mo" x="120.7" y="325.9"/><use href="#mo" x="122.3" y="320.9"/><use href="#mo" x="123.9" y="316.1"/><use href="#mo" x="125.5" y="311.4"/><use href="#mo" x="127.1" y="306.8"/><use href="#mo" x="128.7" y="300.8"/><use href="#mo" x="130.2" y="294.2"/><use href="#mo" x="131.8" y="287.7"/><use href="#mo" x="133.4" y="281.3"/><use href="#mo" x="135" y="274.9"/><use href="#mo" x="136.6" y="268.5"/><use href="#mo" x="138.2" y="262.2"/><use href="#mo" x="139.8" y="256"/><use href="#mo" x="141.3" y="249.8"/><use href="#mo" x="142.9" y="244.2"/><use href="#mo" x="144.5" y="239"/><use href="#mo" x="146.1" y="233.9"/><use href="#mo" x="147.7" y="228.8"/><use href="#mo" x="149.3" y="223.8"/><use href="#mo" x="150.8" y="218.8"/><use href="#mo" x="152.4" y="213.9"/><use href="#mo" x="154" y="209"/><use href="#mo" x="155.6" y="204.1"/><use href="#mo" x="157.2" y="199.3"/><use href="#mo" x="158.8" y="194.5"/><use href="#mo" x="160.4" y="189.8"/><use href="#mo" x="161.9" y="184.8"/><use href="#mo" x="163.5" y="179.8"/><use href="#mo" x="165.1" y="174.8"/><use href="#mo" x="166.7" y="169.9"/><use href="#mo" x="168.3" y="165"/><use href="#mo" x="169.9" y="160.2"/><use href="#mo" x="171.5" y="155.4"/><use href="#mo" x="173" y="150.6"/>
<use href="#mD" x="93.8" y="464.3"/><use href="#mD" x="95.4" y="446"/><use href="#mD" x="97" y="432.6"/><use href="#mD" x="98.5" y="420.9"/><use href="#mD" x="100.1" y="410.5"/><use href="#mD" x="101.7" y="401"/><use href="#mD" x="103.3" y="392.1"/><use href="#mD" x="104.9" y="383.7"/><use href="#mD" x="106.4" y="375.8"/><use href="#mD" x="108" y="368"/><use href="#mD" x="109.6" y="359.8"/><use href="#mD" x="111.2" y="351.8"/><use href="#mD" x="112.8" y="344.1"/><use href="#mD" x="114.4" y="336.6"/><use href="#mD" x="115.9" y="329.2"/><use href="#mD" x="117.5" y="322"/><use href="#mD" x="119.1" y="315"/><use href="#mD" x="120.7" y="308.2"/><use href="#mD" x="122.3" y="301.2"/><use href="#mD" x="123.8" y="294.2"/><use href="#mD" x="125.4" y="287.3"/><use href="#mD" x="127" y="280.5"/><use href="#mD" x="128.6" y="273.8"/><use href="#mD" x="130.2" y="267.2"/><use href="#mD" x="131.8" y="260.7"/><use href="#mD" x="133.3" y="254.2"/><use href="#mD" x="134.9" y="247.8"/><use href="#mD" x="136.5" y="241.2"/><use href="#mD" x="138.1" y="234.7"/><use href="#mD" x="139.7" y="228.2"/><use href="#mD" x="141.3" y="221.8"/><use href="#mD" x="142.8" y="215.4"/><use href="#mD" x="144.4" y="209.1"/><use href="#mD" x="146" y="202.8"/><use href="#mD" x="147.6" y="196.6"/><use href="#mD" x="149.2" y="190.5"/><use href="#mD" x="150.7" y="184.4"/><use href="#mD" x="152.3" y="178.3"/><use href="#mD" x="153.9" y="172.3"/><use href="#mD" x="155.5" y="166.3"/><use href="#mD" x="157.1" y="160.3"/><use href="#mD" x="158.7" y="154.4"/><use href="#mD" x="160.2" y="148.6"/><use href="#mD" x="161.8" y="142.7"/>
<use href="#ml" x="92.2" y="470.2"/><use href="#ml" x="93.8" y="455.3"/><use href="#ml" x="95.4" y="443.5"/><use href="#ml" x="96.9" y="431.1"/><use href="#ml" x="98.5" y="418.8"/><use href="#ml" x="100.1" y="407.4"/><use href="#ml" x="101.6" y="395"/><use href="#ml" x="103.2" y="385.1"/><use href="#ml" x="104.8" y="375.7"/><use href="#ml" x="106.3" y="366.9"/><use href="#ml" x="107.9" y="358.4"/><use href="#ml" x="109.5" y="350.3"/><use href="#ml" x="111" y="342.4"/><use href="#ml" x="112.6" y="334.8"/><use href="#ml" x="114.2" y="327.5"/><use href="#ml" x="115.7" y="320.4"/><use href="#ml" x="117.3" y="313.4"/><use href="#ml" x="118.9" y="306.6"/><use href="#ml" x="120.4" y="299.5"/><use href="#ml" x="122" y="292.5"/><use href="#ml" x="123.6" y="285.5"/><use href="#ml" x="125.2" y="278.7"/><use href="#ml" x="126.7" y="272"/><use href="#ml" x="128.3" y="265.4"/><use href="#ml" x="129.9" y="258.8"/><use href="#ml" x="131.4" y="252.4"/><use href="#ml" x="133" y="245.9"/><use href="#ml" x="134.6" y="239"/><use href="#ml" x="136.1" y="232.2"/><use href="#ml" x="137.7" y="225.4"/><use href="#ml" x="139.3" y="218.8"/><use href="#ml" x="140.8" y="212.1"/><use href="#ml" x="142.4" y="205.5"/><use href="#ml" x="144" y="199"/><use href="#ml" x="145.5" y="192.6"/><use href="#ml" x="147.1" y="185.9"/><use href="#ml" x="148.7" y="179.1"/><use href="#ml" x="150.2" y="172.3"/><use href="#ml" x="151.8" y="165.6"/><use href="#ml" x="153.4" y="158.9"/><use href="#ml" x="154.9" y="152.2"/><use href="#ml" x="156.5" y="145.6"/><use href="#ml" x="158.1" y="139.1"/><use href="#ml" x="159.7" y="132.5"/><use href="#ml" x="161.2" y="126"/><use href="#ml" x="162.8" y="119.6"/>
</g>
<clipPath id="ca"><rect x="0" y="82.4" width="1412" height="415.4"/></clipPath>
<g fill="none" stroke="#ed1c24" stroke-width="3.6" stroke-linecap="butt" clip-path="url(#ca)">
<path d="M95.6 495.8L95.6 495.3L95.7 494.4L95.7 493.3L95.7 491.9L95.8 490.3L95.8 488.6L95.8 486.8L95.9 484.7L96 482.6L96 480.4L96.1 478L96.2 475.5L96.3 472.9L96.4 470.2L96.5 467.4L96.7 464.5L96.8 461.6L97 458.5L97.1 455.4L97.3 452.1L97.5 448.8L97.8 445.4L98 441.9L98.2 438.4L98.5 434.8L98.8 431.1L99.1 427.3L99.5 423.4L99.9 419.5L100.2 415.5L100.7 411.5L101.1 407.4L101.6 403.2L102.1 399L102.6 394.7L103.2 390.3L103.8 385.9L104.4 381.4L105.1 376.8L105.8 372.2L106.6 367.6L107.3 362.9L108.2 358.1L109 353.3L110 348.4L110.9 343.4L111.9 338.4L113 333.4L114.1 328.3L115.2 323.1L116.4 317.9L117.6 312.7L118.9 307.4L120.3 302L121.7 296.6L123.1 291.1L124.7 285.6L126.2 280.1L127.9 274.5L129.5 268.8L131.3 263.1L133.1 257.4L135 251.6L136.9 245.7L138.9 239.9L140.9 233.9L143 228L145.2 221.9L147.4 215.9L149.7 209.8L152.1 203.6L154.5 197.4L156.9 191.2L159.5 184.9L162.1 178.6L164.7 172.2L167.4 165.8L170.2 159.4L173 152.9L175.9 146.3L178.9 139.8L181.8 133.1L184.9 126.5L188 119.8L191.1 113.1L194.3 106.3L197.5 99.5L200.8 92.6L204.1 85.7L207.4 78.8" stroke-linejoin="round"/>
<path d="M95.4 495.8L95.5 495.3L95.6 494.4L95.7 493.3L95.8 491.9L96 490.3L96.2 488.6L96.4 486.8L96.6 484.7L96.8 482.6L97.1 480.4L97.4 478L97.7 475.5L98 472.9L98.3 470.2L98.7 467.4L99 464.5L99.4 461.6L99.8 458.5L100.3 455.4L100.7 452.1L101.2 448.8L101.7 445.4L102.2 441.9L102.8 438.4L103.4 434.8L104.1 431.1L104.7 427.3L105.4 423.4L106.2 419.5L107 415.5L107.8 411.5L108.7 407.4L109.6 403.2L110.6 399L111.6 394.7L112.7 390.3L113.9 385.9L115.1 381.4L116.4 376.8L117.7 372.2L119.1 367.6L120.6 362.9L122.1 358.1L123.8 353.3L125.5 348.4L127.3 343.4L129.2 338.4L131.2 333.4L133.2 328.3L135.4 323.1L137.7 317.9L140 312.7L142.5 307.4L145.1 302L147.7 296.6L150.5 291.1L153.4 285.6L156.4 280.1L159.6 274.5L162.8 268.8L166.2 263.1L169.7 257.4L173.3 251.6L177.1 245.7L181 239.9L185 233.9L189.1 228L193.4 221.9L197.8 215.9L202.4 209.8L207 203.6L211.8 197.4L216.8 191.2L221.9 184.9L227.1 178.6L232.4 172.2L237.9 165.8L243.5 159.4L249.3 152.9L255.1 146.3L261.1 139.8L267.2 133.1L273.5 126.5L279.8 119.8L286.3 113.1L292.9 106.3L299.5 99.5L306.3 92.6L313.2 85.7L320.1 78.8" stroke-linejoin="round"/>
<path d="M95.9 495.8L95.9 495.3L96 494.4L96.1 493.3L96.2 491.9L96.3 490.3L96.5 488.6L96.7 486.8L96.9 484.7L97.2 482.6L97.5 480.4L97.9 478L98.3 475.5L98.7 472.9L99.2 470.2L99.7 467.4L100.3 464.5L101 461.6L101.7 458.5L102.5 455.4L103.3 452.1L104.3 448.8L105.3 445.4L106.3 441.9L107.5 438.4L108.8 434.8L110.1 431.1L111.6 427.3L113.1 423.4L114.8 419.5L116.5 415.5L118.4 411.5L120.4 407.4L122.5 403.2L124.7 399L127.1 394.7L129.6 390.3L132.2 385.9L134.9 381.4L137.8 376.8L140.9 372.2L144.1 367.6L147.4 362.9L151 358.1L154.6 353.3L158.5 348.4L162.5 343.4L166.7 338.4L171.1 333.4L175.6 328.3L180.4 323.1L185.3 317.9L190.4 312.7L195.8 307.4L201.3 302L207 296.6L213 291.1L219.2 285.6L225.5 280.1L232.1 274.5L239 268.8L246 263.1L253.3 257.4L260.8 251.6L268.5 245.7L276.5 239.9L284.7 233.9L293.2 228L301.9 221.9L310.9 215.9L320.1 209.8L329.6 203.6L339.3 197.4L349.3 191.2L359.5 184.9L370 178.6L380.8 172.2L391.8 165.8L403.1 159.4L414.6 152.9L426.4 146.3L438.5 139.8L450.8 133.1L463.4 126.5L476.3 119.8L489.4 113.1L502.8 106.3L516.4 99.5L530.3 92.6L544.4 85.7L558.9 78.8" stroke-linejoin="round"/>
</g>
<g stroke="#231f20" fill="none">
<rect x="857.6" y="84.3" width="551.7" height="413.4" stroke-width="3.9"/>
<path d="M912 497.7v-7.5M912 84.3v7.5M1096.2 497.7v-7.5M1096.2 84.3v7.5M1280.3 497.7v-7.5M1280.3 84.3v7.5M857.6 291h7.5M1409.3 291h-7.5" stroke-width="3"/>
<path d="M871.1 497.7v-4.6M871.1 84.3v4.6M883.5 497.7v-4.6M883.5 84.3v4.6M894.2 497.7v-4.6M894.2 84.3v4.6M903.6 497.7v-4.6M903.6 84.3v4.6M967.4 497.7v-4.6M967.4 84.3v4.6M999.9 497.7v-4.6M999.9 84.3v4.6M1022.9 497.7v-4.6M1022.9 84.3v4.6M1040.7 497.7v-4.6M1040.7 84.3v4.6M1055.3 497.7v-4.6M1055.3 84.3v4.6M1067.6 497.7v-4.6M1067.6 84.3v4.6M1078.3 497.7v-4.6M1078.3 84.3v4.6M1087.7 497.7v-4.6M1087.7 84.3v4.6M1151.6 497.7v-4.6M1151.6 84.3v4.6M1184 497.7v-4.6M1184 84.3v4.6M1207 497.7v-4.6M1207 84.3v4.6M1224.9 497.7v-4.6M1224.9 84.3v4.6M1239.4 497.7v-4.6M1239.4 84.3v4.6M1251.8 497.7v-4.6M1251.8 84.3v4.6M1262.5 497.7v-4.6M1262.5 84.3v4.6M1271.9 497.7v-4.6M1271.9 84.3v4.6M1335.7 497.7v-4.6M1335.7 84.3v4.6M1368.2 497.7v-4.6M1368.2 84.3v4.6M1391.2 497.7v-4.6M1391.2 84.3v4.6M857.6 435.5h4.6M1409.3 435.5h-4.6M857.6 399.1h4.6M1409.3 399.1h-4.6M857.6 373.3h4.6M1409.3 373.3h-4.6M857.6 353.2h4.6M1409.3 353.2h-4.6M857.6 336.9h4.6M1409.3 336.9h-4.6M857.6 323h4.6M1409.3 323h-4.6M857.6 311h4.6M1409.3 311h-4.6M857.6 300.5h4.6M1409.3 300.5h-4.6M857.6 228.8h4.6M1409.3 228.8h-4.6M857.6 192.4h4.6M1409.3 192.4h-4.6M857.6 166.6h4.6M1409.3 166.6h-4.6M857.6 146.5h4.6M1409.3 146.5h-4.6M857.6 130.2h4.6M1409.3 130.2h-4.6M857.6 116.3h4.6M1409.3 116.3h-4.6M857.6 104.3h4.6M1409.3 104.3h-4.6M857.6 93.8h4.6M1409.3 93.8h-4.6" stroke-width="2.9"/>
</g>
<g fill="none" stroke="#ecb020" stroke-width="3.2" stroke-linejoin="miter">
<path d="M1201.9 263.5L1210.4 258.6L1218 254.3L1225 250.5L1231.4 246.9L1237.3 243.7L1242.8 240.6L1248 237.7L1252.8 235.1L1257.4 232.7L1261.7 230.3L1265.8 228.1L1269.7 226L1273.5 224.1L1277 222.4L1280.4 220.7L1283.7 219.1L1286.8 217.6L1289.8 216.2L1292.7 214.8L1295.5 213.4L1298.3 212.2L1300.9 210.9L1303.4 209.7L1305.9 208.5L1308.3 207.4L1310.6 206.2L1312.8 205.2L1315 204.1L1317.2 203.1L1319.2 202.2L1321.3 201.2L1323.2 200.3L1325.2 199.4L1327.1 198.5L1328.9 197.6L1330.7 196.8L1332.5 196L1334.2 195.1L1335.9 194.2L1337.5 193.3L1339.1 192.4L1340.7 191.5L1342.3 190.5L1343.8 189.5L1345.3 188.4L1346.7 187.8L1348.2 187.2L1349.6 186.6L1351 186.1L1352.4 185.5L1353.7 183.8L1355 182.6L1356.3 181.9L1357.6 180.2L1358.9 179.8L1360.1 179.3L1361.3 178.8L1362.5 176.7" stroke-width="11" stroke-linejoin="round" stroke-linecap="butt"/>
<g fill="#ecb020"><use href="#ms" x="1210.4" y="258.6"/><use href="#ms" x="1218" y="254.3"/><use href="#ms" x="1225" y="250.5"/><use href="#ms" x="1231.4" y="246.9"/><use href="#ms" x="1237.3" y="243.7"/><use href="#ms" x="1242.8" y="240.6"/><use href="#ms" x="1248" y="237.7"/><use href="#ms" x="1252.8" y="235.1"/><use href="#ms" x="1257.4" y="232.7"/><use href="#ms" x="1261.7" y="230.3"/><use href="#ms" x="1265.8" y="228.1"/><use href="#ms" x="1269.7" y="226"/><use href="#ms" x="1273.5" y="224.1"/><use href="#ms" x="1277" y="222.4"/><use href="#ms" x="1280.4" y="220.7"/><use href="#ms" x="1283.7" y="219.1"/><use href="#ms" x="1286.8" y="217.6"/><use href="#ms" x="1289.8" y="216.2"/><use href="#ms" x="1292.7" y="214.8"/><use href="#ms" x="1295.5" y="213.4"/><use href="#ms" x="1298.3" y="212.2"/><use href="#ms" x="1300.9" y="210.9"/><use href="#ms" x="1303.4" y="209.7"/><use href="#ms" x="1305.9" y="208.5"/><use href="#ms" x="1308.3" y="207.4"/><use href="#ms" x="1310.6" y="206.2"/><use href="#ms" x="1312.8" y="205.2"/><use href="#ms" x="1315" y="204.1"/><use href="#ms" x="1317.2" y="203.1"/><use href="#ms" x="1319.2" y="202.2"/><use href="#ms" x="1321.3" y="201.2"/><use href="#ms" x="1323.2" y="200.3"/><use href="#ms" x="1325.2" y="199.4"/><use href="#ms" x="1327.1" y="198.5"/><use href="#ms" x="1328.9" y="197.6"/><use href="#ms" x="1330.7" y="196.8"/><use href="#ms" x="1332.5" y="196"/><use href="#ms" x="1334.2" y="195.1"/><use href="#ms" x="1335.9" y="194.2"/><use href="#ms" x="1337.5" y="193.3"/><use href="#ms" x="1339.1" y="192.4"/><use href="#ms" x="1340.7" y="191.5"/><use href="#ms" x="1342.3" y="190.5"/><use href="#ms" x="1343.8" y="189.5"/><use href="#ms" x="1345.3" y="188.4"/><use href="#ms" x="1346.7" y="187.8"/><use href="#ms" x="1348.2" y="187.2"/><use href="#ms" x="1349.6" y="186.6"/><use href="#ms" x="1351" y="186.1"/><use href="#ms" x="1352.4" y="185.5"/><use href="#ms" x="1353.7" y="183.8"/><use href="#ms" x="1355" y="182.6"/><use href="#ms" x="1356.3" y="181.9"/><use href="#ms" x="1357.6" y="180.2"/><use href="#ms" x="1358.9" y="179.8"/><use href="#ms" x="1360.1" y="179.3"/></g>
<path d="M1193 272.9L1200.7 268L1207.6 263.5L1214 259.5L1220 256.1L1225.5 252.9L1230.7 250L1235.5 247.2L1240.1 244.5L1244.4 242L1248.5 239.7L1252.4 237.5L1256.2 235.3L1259.7 233.4L1263.1 231.7L1266.4 230.1L1269.5 228.5L1272.6 227L1275.5 225.6L1278.3 224.2L1281 222.8L1283.6 221.5L1286.2 220.3L1288.6 219L1291 217.8L1293.3 216.5L1295.6 215.1L1297.8 213.8L1299.9 212.5L1302 211.2L1304 210L1306 208.8L1307.9 207.6L1309.8 206.5L1311.6 205.4L1313.4 204.3L1315.2 203.2L1316.9 202.1L1318.6 201.1L1320.3 200.1L1321.9 199.1L1323.5 198.2L1325 197.2L1326.5 196.3L1328 195.4L1329.5 194.5L1330.9 193.6L1332.4 192.8L1333.7 191.9L1335.1 191.1L1336.5 190.3L1337.8 189.5L1339.1 188.7L1340.4 187.9L1341.6 187.1L1342.9 186.4L1344.1 185.6L1345.3 184.9L1346.5 184.1L1347.6 183.4L1348.8 182.7L1349.9 182L1351 181.3" stroke-width="13" stroke-linejoin="round" stroke-linecap="butt"/>
<g fill="#ecb020"><use href="#ml" x="1200.7" y="268"/><use href="#ml" x="1207.6" y="263.5"/><use href="#ml" x="1214" y="259.5"/><use href="#ml" x="1220" y="256.1"/><use href="#ml" x="1225.5" y="252.9"/><use href="#ml" x="1230.7" y="250"/><use href="#ml" x="1235.5" y="247.2"/><use href="#ml" x="1240.1" y="244.5"/><use href="#ml" x="1244.4" y="242"/><use href="#ml" x="1248.5" y="239.7"/><use href="#ml" x="1252.4" y="237.5"/><use href="#ml" x="1256.2" y="235.3"/><use href="#ml" x="1259.7" y="233.4"/><use href="#ml" x="1263.1" y="231.7"/><use href="#ml" x="1266.4" y="230.1"/><use href="#ml" x="1269.5" y="228.5"/><use href="#ml" x="1272.6" y="227"/><use href="#ml" x="1275.5" y="225.6"/><use href="#ml" x="1278.3" y="224.2"/><use href="#ml" x="1281" y="222.8"/><use href="#ml" x="1283.6" y="221.5"/><use href="#ml" x="1286.2" y="220.3"/><use href="#ml" x="1288.6" y="219"/><use href="#ml" x="1291" y="217.8"/><use href="#ml" x="1293.3" y="216.5"/><use href="#ml" x="1295.6" y="215.1"/><use href="#ml" x="1297.8" y="213.8"/><use href="#ml" x="1299.9" y="212.5"/><use href="#ml" x="1302" y="211.2"/><use href="#ml" x="1304" y="210"/><use href="#ml" x="1306" y="208.8"/><use href="#ml" x="1307.9" y="207.6"/><use href="#ml" x="1309.8" y="206.5"/><use href="#ml" x="1311.6" y="205.4"/><use href="#ml" x="1313.4" y="204.3"/><use href="#ml" x="1315.2" y="203.2"/><use href="#ml" x="1316.9" y="202.1"/><use href="#ml" x="1318.6" y="201.1"/><use href="#ml" x="1320.3" y="200.1"/><use href="#ml" x="1321.9" y="199.1"/><use href="#ml" x="1323.5" y="198.2"/><use href="#ml" x="1325" y="197.2"/><use href="#ml" x="1326.5" y="196.3"/><use href="#ml" x="1328" y="195.4"/><use href="#ml" x="1329.5" y="194.5"/><use href="#ml" x="1330.9" y="193.6"/><use href="#ml" x="1332.4" y="192.8"/><use href="#ml" x="1333.7" y="191.9"/><use href="#ml" x="1335.1" y="191.1"/><use href="#ml" x="1336.5" y="190.3"/><use href="#ml" x="1337.8" y="189.5"/><use href="#ml" x="1339.1" y="188.7"/><use href="#ml" x="1340.4" y="187.9"/><use href="#ml" x="1341.6" y="187.1"/><use href="#ml" x="1342.9" y="186.4"/><use href="#ml" x="1344.1" y="185.6"/><use href="#ml" x="1345.3" y="184.9"/><use href="#ml" x="1346.5" y="184.1"/><use href="#ml" x="1347.6" y="183.4"/><use href="#ml" x="1348.8" y="182.7"/></g>
<path d="M1161.4 287.7L1169.9 283L1177.5 278.2L1184.4 273.9L1190.8 269.9L1196.8 266.1L1202.3 262.4L1207.5 258.9L1212.3 255.5L1216.9 252.4L1221.2 250L1225.3 247.8L1229.2 245.7L1232.9 243.7L1236.5 241.9L1239.9 240.1L1243.2 238.3L1246.3 236.7L1249.3 235.1L1252.2 233.5L1255 231.9L1257.7 230.3L1260.4 228.7L1262.9 227.2L1265.4 225.7L1267.8 224.3L1270.1 222.9L1272.3 221.6L1274.5 220.1L1276.7 218.7L1278.7 217.3L1280.8 215.9L1282.7 214.7L1284.7 213.8L1286.5 212.9L1288.4 212L1290.2 211.1L1291.9 210.3L1293.7 209.4L1295.3 208.5L1297 207.7L1298.6 206.8L1300.2 206L1301.7 205.1L1303.3 204.2L1304.8 203.3L1306.2 202.4L1307.7 201.6L1309.1 200.7L1310.5 200L1311.8 199.2L1313.2 198.4L1314.5 197.6L1315.8 196.8L1317.1 196.1L1318.3 195.4L1319.6 194.8L1320.8 194.1L1322 193.4L1323.2 192.7L1324.4 192L1325.5 191.2L1326.7 190.2L1327.8 189.2L1328.9 188.3L1330 187.4L1331 186.4L1332.1 185.5" stroke-width="14" stroke-linejoin="round" stroke-linecap="butt"/>
<g fill="#ecb020"><use href="#mC" x="1169.9" y="283"/><use href="#mC" x="1177.5" y="278.2"/><use href="#mC" x="1184.4" y="273.9"/><use href="#mC" x="1190.8" y="269.9"/><use href="#mC" x="1196.8" y="266.1"/><use href="#mC" x="1202.3" y="262.4"/><use href="#mC" x="1207.5" y="258.9"/><use href="#mC" x="1212.3" y="255.5"/><use href="#mC" x="1216.9" y="252.4"/><use href="#mC" x="1221.2" y="250"/><use href="#mC" x="1225.3" y="247.8"/><use href="#mC" x="1229.2" y="245.7"/><use href="#mC" x="1232.9" y="243.7"/><use href="#mC" x="1236.5" y="241.9"/><use href="#mC" x="1239.9" y="240.1"/><use href="#mC" x="1243.2" y="238.3"/><use href="#mC" x="1246.3" y="236.7"/><use href="#mC" x="1249.3" y="235.1"/><use href="#mC" x="1252.2" y="233.5"/><use href="#mC" x="1255" y="231.9"/><use href="#mC" x="1257.7" y="230.3"/><use href="#mC" x="1260.4" y="228.7"/><use href="#mC" x="1262.9" y="227.2"/><use href="#mC" x="1265.4" y="225.7"/><use href="#mC" x="1267.8" y="224.3"/><use href="#mC" x="1270.1" y="222.9"/><use href="#mC" x="1272.3" y="221.6"/><use href="#mC" x="1274.5" y="220.1"/><use href="#mC" x="1276.7" y="218.7"/><use href="#mC" x="1278.7" y="217.3"/><use href="#mC" x="1280.8" y="215.9"/><use href="#mC" x="1282.7" y="214.7"/><use href="#mC" x="1284.7" y="213.8"/><use href="#mC" x="1286.5" y="212.9"/><use href="#mC" x="1288.4" y="212"/><use href="#mC" x="1290.2" y="211.1"/><use href="#mC" x="1291.9" y="210.3"/><use href="#mC" x="1293.7" y="209.4"/><use href="#mC" x="1295.3" y="208.5"/><use href="#mC" x="1297" y="207.7"/><use href="#mC" x="1298.6" y="206.8"/><use href="#mC" x="1300.2" y="206"/><use href="#mC" x="1301.7" y="205.1"/><use href="#mC" x="1303.3" y="204.2"/><use href="#mC" x="1304.8" y="203.3"/><use href="#mC" x="1306.2" y="202.4"/><use href="#mC" x="1307.7" y="201.6"/><use href="#mC" x="1309.1" y="200.7"/><use href="#mC" x="1310.5" y="200"/><use href="#mC" x="1311.8" y="199.2"/><use href="#mC" x="1313.2" y="198.4"/><use href="#mC" x="1314.5" y="197.6"/><use href="#mC" x="1315.8" y="196.8"/><use href="#mC" x="1317.1" y="196.1"/><use href="#mC" x="1318.3" y="195.4"/><use href="#mC" x="1319.6" y="194.8"/><use href="#mC" x="1320.8" y="194.1"/><use href="#mC" x="1322" y="193.4"/><use href="#mC" x="1323.2" y="192.7"/><use href="#mC" x="1324.4" y="192"/><use href="#mC" x="1325.5" y="191.2"/><use href="#mC" x="1326.7" y="190.2"/><use href="#mC" x="1327.8" y="189.2"/><use href="#mC" x="1328.9" y="188.3"/><use href="#mC" x="1330" y="187.4"/></g>
<use href="#ms" x="1025.8" y="357.4"/><use href="#ms" x="1081.5" y="331.4"/><use href="#ms" x="1114" y="318.7"/><use href="#ms" x="1137" y="304.1"/><use href="#ms" x="1154.9" y="292.2"/><use href="#ms" x="1169.5" y="282.4"/><use href="#ms" x="1181.8" y="275.2"/><use href="#ms" x="1192.5" y="269"/><use href="#ms" x="1201.9" y="263.5"/><use href="#ms" x="1210.4" y="258.6"/><use href="#ms" x="1218" y="254.3"/><use href="#ms" x="1225" y="250.5"/><use href="#ms" x="1231.4" y="246.9"/><use href="#ms" x="1237.3" y="243.7"/><use href="#ms" x="1242.8" y="240.6"/><use href="#ms" x="1248" y="237.7"/><use href="#ms" x="1252.8" y="235.1"/><use href="#ms" x="1257.4" y="232.7"/><use href="#ms" x="1261.7" y="230.3"/><use href="#ms" x="1265.8" y="228.1"/><use href="#ms" x="1269.7" y="226"/><use href="#ms" x="1273.5" y="224.1"/><use href="#ms" x="1277" y="222.4"/><use href="#ms" x="1280.4" y="220.7"/><use href="#ms" x="1283.7" y="219.1"/><use href="#ms" x="1286.8" y="217.6"/><use href="#ms" x="1289.8" y="216.2"/><use href="#ms" x="1292.7" y="214.8"/><use href="#ms" x="1295.5" y="213.4"/><use href="#ms" x="1298.3" y="212.2"/><use href="#ms" x="1300.9" y="210.9"/><use href="#ms" x="1303.4" y="209.7"/><use href="#ms" x="1305.9" y="208.5"/><use href="#ms" x="1308.3" y="207.4"/><use href="#ms" x="1310.6" y="206.2"/><use href="#ms" x="1312.8" y="205.2"/><use href="#ms" x="1315" y="204.1"/><use href="#ms" x="1317.2" y="203.1"/><use href="#ms" x="1319.2" y="202.2"/><use href="#ms" x="1321.3" y="201.2"/><use href="#ms" x="1323.2" y="200.3"/><use href="#ms" x="1325.2" y="199.4"/><use href="#ms" x="1327.1" y="198.5"/><use href="#ms" x="1328.9" y="197.6"/><use href="#ms" x="1330.7" y="196.8"/><use href="#ms" x="1332.5" y="196"/><use href="#ms" x="1334.2" y="195.1"/><use href="#ms" x="1335.9" y="194.2"/><use href="#ms" x="1337.5" y="193.3"/><use href="#ms" x="1339.1" y="192.4"/><use href="#ms" x="1340.7" y="191.5"/><use href="#ms" x="1342.3" y="190.5"/><use href="#ms" x="1343.8" y="189.5"/><use href="#ms" x="1345.3" y="188.4"/><use href="#ms" x="1346.7" y="187.8"/><use href="#ms" x="1348.2" y="187.2"/><use href="#ms" x="1349.6" y="186.6"/><use href="#ms" x="1351" y="186.1"/><use href="#ms" x="1352.4" y="185.5"/><use href="#ms" x="1353.7" y="183.8"/><use href="#ms" x="1355" y="182.6"/><use href="#ms" x="1356.3" y="181.9"/><use href="#ms" x="1357.6" y="180.2"/><use href="#ms" x="1358.9" y="179.8"/><use href="#ms" x="1360.1" y="179.3"/><use href="#ms" x="1361.3" y="178.8"/><use href="#ms" x="1362.5" y="176.7"/>
<use href="#ml" x="1007.2" y="392.2"/><use href="#ml" x="1063.6" y="359.6"/><use href="#ml" x="1096.3" y="341.6"/><use href="#ml" x="1119.5" y="327.7"/><use href="#ml" x="1137.4" y="313.5"/><use href="#ml" x="1152" y="302"/><use href="#ml" x="1164.4" y="292.2"/><use href="#ml" x="1175.1" y="284.4"/><use href="#ml" x="1184.6" y="278.4"/><use href="#ml" x="1193" y="272.9"/><use href="#ml" x="1200.7" y="268"/><use href="#ml" x="1207.6" y="263.5"/><use href="#ml" x="1214" y="259.5"/><use href="#ml" x="1220" y="256.1"/><use href="#ml" x="1225.5" y="252.9"/><use href="#ml" x="1230.7" y="250"/><use href="#ml" x="1235.5" y="247.2"/><use href="#ml" x="1240.1" y="244.5"/><use href="#ml" x="1244.4" y="242"/><use href="#ml" x="1248.5" y="239.7"/><use href="#ml" x="1252.4" y="237.5"/><use href="#ml" x="1256.2" y="235.3"/><use href="#ml" x="1259.7" y="233.4"/><use href="#ml" x="1263.1" y="231.7"/><use href="#ml" x="1266.4" y="230.1"/><use href="#ml" x="1269.5" y="228.5"/><use href="#ml" x="1272.6" y="227"/><use href="#ml" x="1275.5" y="225.6"/><use href="#ml" x="1278.3" y="224.2"/><use href="#ml" x="1281" y="222.8"/><use href="#ml" x="1283.6" y="221.5"/><use href="#ml" x="1286.2" y="220.3"/><use href="#ml" x="1288.6" y="219"/><use href="#ml" x="1291" y="217.8"/><use href="#ml" x="1293.3" y="216.5"/><use href="#ml" x="1295.6" y="215.1"/><use href="#ml" x="1297.8" y="213.8"/><use href="#ml" x="1299.9" y="212.5"/><use href="#ml" x="1302" y="211.2"/><use href="#ml" x="1304" y="210"/><use href="#ml" x="1306" y="208.8"/><use href="#ml" x="1307.9" y="207.6"/><use href="#ml" x="1309.8" y="206.5"/><use href="#ml" x="1311.6" y="205.4"/><use href="#ml" x="1313.4" y="204.3"/><use href="#ml" x="1315.2" y="203.2"/><use href="#ml" x="1316.9" y="202.1"/><use href="#ml" x="1318.6" y="201.1"/><use href="#ml" x="1320.3" y="200.1"/><use href="#ml" x="1321.9" y="199.1"/><use href="#ml" x="1323.5" y="198.2"/><use href="#ml" x="1325" y="197.2"/><use href="#ml" x="1326.5" y="196.3"/><use href="#ml" x="1328" y="195.4"/><use href="#ml" x="1329.5" y="194.5"/><use href="#ml" x="1330.9" y="193.6"/><use href="#ml" x="1332.4" y="192.8"/><use href="#ml" x="1333.7" y="191.9"/><use href="#ml" x="1335.1" y="191.1"/><use href="#ml" x="1336.5" y="190.3"/><use href="#ml" x="1337.8" y="189.5"/><use href="#ml" x="1339.1" y="188.7"/><use href="#ml" x="1340.4" y="187.9"/><use href="#ml" x="1341.6" y="187.1"/><use href="#ml" x="1342.9" y="186.4"/><use href="#ml" x="1344.1" y="185.6"/><use href="#ml" x="1345.3" y="184.9"/><use href="#ml" x="1346.5" y="184.1"/><use href="#ml" x="1347.6" y="183.4"/><use href="#ml" x="1348.8" y="182.7"/><use href="#ml" x="1349.9" y="182"/><use href="#ml" x="1351" y="181.3"/>
<use href="#mC" x="985.3" y="376.7"/><use href="#mC" x="1040.9" y="356.1"/><use href="#mC" x="1073.5" y="341.2"/><use href="#mC" x="1096.5" y="326.9"/><use href="#mC" x="1114.4" y="313.4"/><use href="#mC" x="1129" y="305.4"/><use href="#mC" x="1141.3" y="298.7"/><use href="#mC" x="1152" y="292.8"/><use href="#mC" x="1161.4" y="287.7"/><use href="#mC" x="1169.9" y="283"/><use href="#mC" x="1177.5" y="278.2"/><use href="#mC" x="1184.4" y="273.9"/><use href="#mC" x="1190.8" y="269.9"/><use href="#mC" x="1196.8" y="266.1"/><use href="#mC" x="1202.3" y="262.4"/><use href="#mC" x="1207.5" y="258.9"/><use href="#mC" x="1212.3" y="255.5"/><use href="#mC" x="1216.9" y="252.4"/><use href="#mC" x="1221.2" y="250"/><use href="#mC" x="1225.3" y="247.8"/><use href="#mC" x="1229.2" y="245.7"/><use href="#mC" x="1232.9" y="243.7"/><use href="#mC" x="1236.5" y="241.9"/><use href="#mC" x="1239.9" y="240.1"/><use href="#mC" x="1243.2" y="238.3"/><use href="#mC" x="1246.3" y="236.7"/><use href="#mC" x="1249.3" y="235.1"/><use href="#mC" x="1252.2" y="233.5"/><use href="#mC" x="1255" y="231.9"/><use href="#mC" x="1257.7" y="230.3"/><use href="#mC" x="1260.4" y="228.7"/><use href="#mC" x="1262.9" y="227.2"/><use href="#mC" x="1265.4" y="225.7"/><use href="#mC" x="1267.8" y="224.3"/><use href="#mC" x="1270.1" y="222.9"/><use href="#mC" x="1272.3" y="221.6"/><use href="#mC" x="1274.5" y="220.1"/><use href="#mC" x="1276.7" y="218.7"/><use href="#mC" x="1278.7" y="217.3"/><use href="#mC" x="1280.8" y="215.9"/><use href="#mC" x="1282.7" y="214.7"/><use href="#mC" x="1284.7" y="213.8"/><use href="#mC" x="1286.5" y="212.9"/><use href="#mC" x="1288.4" y="212"/><use href="#mC" x="1290.2" y="211.1"/><use href="#mC" x="1291.9" y="210.3"/><use href="#mC" x="1293.7" y="209.4"/><use href="#mC" x="1295.3" y="208.5"/><use href="#mC" x="1297" y="207.7"/><use href="#mC" x="1298.6" y="206.8"/><use href="#mC" x="1300.2" y="206"/><use href="#mC" x="1301.7" y="205.1"/><use href="#mC" x="1303.3" y="204.2"/><use href="#mC" x="1304.8" y="203.3"/><use href="#mC" x="1306.2" y="202.4"/><use href="#mC" x="1307.7" y="201.6"/><use href="#mC" x="1309.1" y="200.7"/><use href="#mC" x="1310.5" y="200"/><use href="#mC" x="1311.8" y="199.2"/><use href="#mC" x="1313.2" y="198.4"/><use href="#mC" x="1314.5" y="197.6"/><use href="#mC" x="1315.8" y="196.8"/><use href="#mC" x="1317.1" y="196.1"/><use href="#mC" x="1318.3" y="195.4"/><use href="#mC" x="1319.6" y="194.8"/><use href="#mC" x="1320.8" y="194.1"/><use href="#mC" x="1322" y="193.4"/><use href="#mC" x="1323.2" y="192.7"/><use href="#mC" x="1324.4" y="192"/><use href="#mC" x="1325.5" y="191.2"/><use href="#mC" x="1326.7" y="190.2"/><use href="#mC" x="1327.8" y="189.2"/><use href="#mC" x="1328.9" y="188.3"/><use href="#mC" x="1330" y="187.4"/><use href="#mC" x="1331" y="186.4"/><use href="#mC" x="1332.1" y="185.5"/>
</g>
<g fill="none" stroke="#231f20" stroke-width="3.2" stroke-linejoin="miter">
<path d="M1137.6 273.8L1145.2 268.6L1152.2 263.8L1158.6 259.5L1164.5 255.4L1170 251.7L1175.2 248.1L1180 244.8L1184.6 241.7L1188.9 238.8L1193 236L1196.9 233.2L1200.6 230.4L1204.2 227.7L1207.6 225.1L1210.9 222.6L1214 220.2L1217 217.9L1219.9 215.7L1222.7 213.5L1225.5 211.7L1228.1 210.2L1230.6 208.7L1233.1 207.3L1235.5 205.9L1237.8 204.6L1240 203.3L1242.2 202L1244.4 200.8L1246.4 199.6L1248.5 198.4L1250.4 197.3L1252.4 196.1L1254.3 195.1L1256.1 194L1257.9 193L1259.6 192L1261.4 191L1263.1 190" stroke-width="13" stroke-linejoin="round" stroke-linecap="butt"/>
<g fill="#231f20"><use href="#ml" x="1145.2" y="268.6"/><use href="#ml" x="1152.2" y="263.8"/><use href="#ml" x="1158.6" y="259.5"/><use href="#ml" x="1164.5" y="255.4"/><use href="#ml" x="1170" y="251.7"/><use href="#ml" x="1175.2" y="248.1"/><use href="#ml" x="1180" y="244.8"/><use href="#ml" x="1184.6" y="241.7"/><use href="#ml" x="1188.9" y="238.8"/><use href="#ml" x="1193" y="236"/><use href="#ml" x="1196.9" y="233.2"/><use href="#ml" x="1200.6" y="230.4"/><use href="#ml" x="1204.2" y="227.7"/><use href="#ml" x="1207.6" y="225.1"/><use href="#ml" x="1210.9" y="222.6"/><use href="#ml" x="1214" y="220.2"/><use href="#ml" x="1217" y="217.9"/><use href="#ml" x="1219.9" y="215.7"/><use href="#ml" x="1222.7" y="213.5"/><use href="#ml" x="1225.5" y="211.7"/><use href="#ml" x="1228.1" y="210.2"/><use href="#ml" x="1230.6" y="208.7"/><use href="#ml" x="1233.1" y="207.3"/><use href="#ml" x="1235.5" y="205.9"/><use href="#ml" x="1237.8" y="204.6"/><use href="#ml" x="1240" y="203.3"/><use href="#ml" x="1242.2" y="202"/><use href="#ml" x="1244.4" y="200.8"/><use href="#ml" x="1246.4" y="199.6"/><use href="#ml" x="1248.5" y="198.4"/><use href="#ml" x="1250.4" y="197.3"/><use href="#ml" x="1252.4" y="196.1"/><use href="#ml" x="1254.3" y="195.1"/><use href="#ml" x="1256.1" y="194"/><use href="#ml" x="1257.9" y="193"/><use href="#ml" x="1259.6" y="192"/></g>
<path d="M1129.3 264.5L1137.7 259.8L1145.3 255.6L1152.3 251.8L1158.7 248.3L1164.6 245L1170.2 242L1175.3 238.9L1180.2 235.9L1184.7 233L1189.1 230.3L1193.2 227.8L1197.1 225.3L1200.8 223L1204.4 220.8L1207.8 218.7L1211 216.7L1214.2 214.7L1217.2 212.8L1220.1 211L1222.9 209.3L1225.6 207.6L1228.2 206L1230.8 204.4L1233.2 202.9L1235.6 201.4L1237.9 200L1240.2 198.5L1242.4 196.8L1244.5 195.2L1246.6 193.6L1248.6 192" stroke-width="11" stroke-linejoin="round" stroke-linecap="butt"/>
<g fill="#231f20"><use href="#ms" x="1137.7" y="259.8"/><use href="#ms" x="1145.3" y="255.6"/><use href="#ms" x="1152.3" y="251.8"/><use href="#ms" x="1158.7" y="248.3"/><use href="#ms" x="1164.6" y="245"/><use href="#ms" x="1170.2" y="242"/><use href="#ms" x="1175.3" y="238.9"/><use href="#ms" x="1180.2" y="235.9"/><use href="#ms" x="1184.7" y="233"/><use href="#ms" x="1189.1" y="230.3"/><use href="#ms" x="1193.2" y="227.8"/><use href="#ms" x="1197.1" y="225.3"/><use href="#ms" x="1200.8" y="223"/><use href="#ms" x="1204.4" y="220.8"/><use href="#ms" x="1207.8" y="218.7"/><use href="#ms" x="1211" y="216.7"/><use href="#ms" x="1214.2" y="214.7"/><use href="#ms" x="1217.2" y="212.8"/><use href="#ms" x="1220.1" y="211"/><use href="#ms" x="1222.9" y="209.3"/><use href="#ms" x="1225.6" y="207.6"/><use href="#ms" x="1228.2" y="206"/><use href="#ms" x="1230.8" y="204.4"/><use href="#ms" x="1233.2" y="202.9"/><use href="#ms" x="1235.6" y="201.4"/><use href="#ms" x="1237.9" y="200"/><use href="#ms" x="1240.2" y="198.5"/><use href="#ms" x="1242.4" y="196.8"/><use href="#ms" x="1244.5" y="195.2"/></g>
<path d="M1129.4 270.2L1137.8 265.1L1145.4 260.5L1152.4 256.3L1158.8 252.4L1164.7 248.9L1170.3 245.5L1175.4 242.4L1180.3 239.5L1184.9 236.7L1189.2 233.8L1193.3 231.1L1197.2 228.5L1200.9 226.1L1204.5 223.7L1207.9 221.4L1211.1 219.3L1214.3 217.2L1217.3 215.2L1220.2 213.3L1223 211.4L1225.7 209.7L1228.3 208.2L1230.9 206.7L1233.3 205.2L1235.7 203.9L1238.1 202.5L1240.3 201.2L1242.5 199.9L1244.6 198.7L1246.7 197.5L1248.7 196.3L1250.7 195.1L1252.6 193.9L1254.5 192.7L1256.4 191.5L1258.2 190.3L1259.9 189.1L1261.6 188L1263.3 186.9L1265 185.8L1266.6 184.7L1268.2 183.7L1269.7 182.7L1271.2 181.7" stroke-width="14" stroke-linejoin="round" stroke-linecap="butt"/>
<g fill="#231f20"><use href="#mC" x="1137.8" y="265.1"/><use href="#mC" x="1145.4" y="260.5"/><use href="#mC" x="1152.4" y="256.3"/><use href="#mC" x="1158.8" y="252.4"/><use href="#mC" x="1164.7" y="248.9"/><use href="#mC" x="1170.3" y="245.5"/><use href="#mC" x="1175.4" y="242.4"/><use href="#mC" x="1180.3" y="239.5"/><use href="#mC" x="1184.9" y="236.7"/><use href="#mC" x="1189.2" y="233.8"/><use href="#mC" x="1193.3" y="231.1"/><use href="#mC" x="1197.2" y="228.5"/><use href="#mC" x="1200.9" y="226.1"/><use href="#mC" x="1204.5" y="223.7"/><use href="#mC" x="1207.9" y="221.4"/><use href="#mC" x="1211.1" y="219.3"/><use href="#mC" x="1214.3" y="217.2"/><use href="#mC" x="1217.3" y="215.2"/><use href="#mC" x="1220.2" y="213.3"/><use href="#mC" x="1223" y="211.4"/><use href="#mC" x="1225.7" y="209.7"/><use href="#mC" x="1228.3" y="208.2"/><use href="#mC" x="1230.9" y="206.7"/><use href="#mC" x="1233.3" y="205.2"/><use href="#mC" x="1235.7" y="203.9"/><use href="#mC" x="1238.1" y="202.5"/><use href="#mC" x="1240.3" y="201.2"/><use href="#mC" x="1242.5" y="199.9"/><use href="#mC" x="1244.6" y="198.7"/><use href="#mC" x="1246.7" y="197.5"/><use href="#mC" x="1248.7" y="196.3"/><use href="#mC" x="1250.7" y="195.1"/><use href="#mC" x="1252.6" y="193.9"/><use href="#mC" x="1254.5" y="192.7"/><use href="#mC" x="1256.4" y="191.5"/><use href="#mC" x="1258.2" y="190.3"/><use href="#mC" x="1259.9" y="189.1"/><use href="#mC" x="1261.6" y="188"/><use href="#mC" x="1263.3" y="186.9"/><use href="#mC" x="1265" y="185.8"/><use href="#mC" x="1266.6" y="184.7"/><use href="#mC" x="1268.2" y="183.7"/></g>
<use href="#ml" x="953" y="395.8"/><use href="#ml" x="1008.7" y="361.7"/><use href="#ml" x="1041.2" y="339.5"/><use href="#ml" x="1064.2" y="323.8"/><use href="#ml" x="1082.1" y="311.6"/><use href="#ml" x="1096.7" y="301.7"/><use href="#ml" x="1109" y="293.3"/><use href="#ml" x="1119.7" y="286"/><use href="#ml" x="1129.1" y="279.5"/><use href="#ml" x="1137.6" y="273.8"/><use href="#ml" x="1145.2" y="268.6"/><use href="#ml" x="1152.2" y="263.8"/><use href="#ml" x="1158.6" y="259.5"/><use href="#ml" x="1164.5" y="255.4"/><use href="#ml" x="1170" y="251.7"/><use href="#ml" x="1175.2" y="248.1"/><use href="#ml" x="1180" y="244.8"/><use href="#ml" x="1184.6" y="241.7"/><use href="#ml" x="1188.9" y="238.8"/><use href="#ml" x="1193" y="236"/><use href="#ml" x="1196.9" y="233.2"/><use href="#ml" x="1200.6" y="230.4"/><use href="#ml" x="1204.2" y="227.7"/><use href="#ml" x="1207.6" y="225.1"/><use href="#ml" x="1210.9" y="222.6"/><use href="#ml" x="1214" y="220.2"/><use href="#ml" x="1217" y="217.9"/><use href="#ml" x="1219.9" y="215.7"/><use href="#ml" x="1222.7" y="213.5"/><use href="#ml" x="1225.5" y="211.7"/><use href="#ml" x="1228.1" y="210.2"/><use href="#ml" x="1230.6" y="208.7"/><use href="#ml" x="1233.1" y="207.3"/><use href="#ml" x="1235.5" y="205.9"/><use href="#ml" x="1237.8" y="204.6"/><use href="#ml" x="1240" y="203.3"/><use href="#ml" x="1242.2" y="202"/><use href="#ml" x="1244.4" y="200.8"/><use href="#ml" x="1246.4" y="199.6"/><use href="#ml" x="1248.5" y="198.4"/><use href="#ml" x="1250.4" y="197.3"/><use href="#ml" x="1252.4" y="196.1"/><use href="#ml" x="1254.3" y="195.1"/><use href="#ml" x="1256.1" y="194"/><use href="#ml" x="1257.9" y="193"/><use href="#ml" x="1259.6" y="192"/><use href="#ml" x="1261.4" y="191"/><use href="#ml" x="1263.1" y="190"/>
<use href="#ms" x="953" y="361.5"/><use href="#ms" x="1008.8" y="330.8"/><use href="#ms" x="1041.3" y="312.9"/><use href="#ms" x="1064.3" y="300.2"/><use href="#ms" x="1082.2" y="290.4"/><use href="#ms" x="1096.8" y="282.3"/><use href="#ms" x="1109.2" y="275.5"/><use href="#ms" x="1119.9" y="269.6"/><use href="#ms" x="1129.3" y="264.5"/><use href="#ms" x="1137.7" y="259.8"/><use href="#ms" x="1145.3" y="255.6"/><use href="#ms" x="1152.3" y="251.8"/><use href="#ms" x="1158.7" y="248.3"/><use href="#ms" x="1164.6" y="245"/><use href="#ms" x="1170.2" y="242"/><use href="#ms" x="1175.3" y="238.9"/><use href="#ms" x="1180.2" y="235.9"/><use href="#ms" x="1184.7" y="233"/><use href="#ms" x="1189.1" y="230.3"/><use href="#ms" x="1193.2" y="227.8"/><use href="#ms" x="1197.1" y="225.3"/><use href="#ms" x="1200.8" y="223"/><use href="#ms" x="1204.4" y="220.8"/><use href="#ms" x="1207.8" y="218.7"/><use href="#ms" x="1211" y="216.7"/><use href="#ms" x="1214.2" y="214.7"/><use href="#ms" x="1217.2" y="212.8"/><use href="#ms" x="1220.1" y="211"/><use href="#ms" x="1222.9" y="209.3"/><use href="#ms" x="1225.6" y="207.6"/><use href="#ms" x="1228.2" y="206"/><use href="#ms" x="1230.8" y="204.4"/><use href="#ms" x="1233.2" y="202.9"/><use href="#ms" x="1235.6" y="201.4"/><use href="#ms" x="1237.9" y="200"/><use href="#ms" x="1240.2" y="198.5"/><use href="#ms" x="1242.4" y="196.8"/><use href="#ms" x="1244.5" y="195.2"/><use href="#ms" x="1246.6" y="193.6"/><use href="#ms" x="1248.6" y="192"/>
<use href="#mC" x="953" y="373.9"/><use href="#mC" x="1008.8" y="342.8"/><use href="#mC" x="1041.4" y="323.2"/><use href="#mC" x="1064.4" y="309.3"/><use href="#mC" x="1082.3" y="298.5"/><use href="#mC" x="1096.9" y="289.7"/><use href="#mC" x="1109.3" y="282.3"/><use href="#mC" x="1120" y="275.9"/><use href="#mC" x="1129.4" y="270.2"/><use href="#mC" x="1137.8" y="265.1"/><use href="#mC" x="1145.4" y="260.5"/><use href="#mC" x="1152.4" y="256.3"/><use href="#mC" x="1158.8" y="252.4"/><use href="#mC" x="1164.7" y="248.9"/><use href="#mC" x="1170.3" y="245.5"/><use href="#mC" x="1175.4" y="242.4"/><use href="#mC" x="1180.3" y="239.5"/><use href="#mC" x="1184.9" y="236.7"/><use href="#mC" x="1189.2" y="233.8"/><use href="#mC" x="1193.3" y="231.1"/><use href="#mC" x="1197.2" y="228.5"/><use href="#mC" x="1200.9" y="226.1"/><use href="#mC" x="1204.5" y="223.7"/><use href="#mC" x="1207.9" y="221.4"/><use href="#mC" x="1211.1" y="219.3"/><use href="#mC" x="1214.3" y="217.2"/><use href="#mC" x="1217.3" y="215.2"/><use href="#mC" x="1220.2" y="213.3"/><use href="#mC" x="1223" y="211.4"/><use href="#mC" x="1225.7" y="209.7"/><use href="#mC" x="1228.3" y="208.2"/><use href="#mC" x="1230.9" y="206.7"/><use href="#mC" x="1233.3" y="205.2"/><use href="#mC" x="1235.7" y="203.9"/><use href="#mC" x="1238.1" y="202.5"/><use href="#mC" x="1240.3" y="201.2"/><use href="#mC" x="1242.5" y="199.9"/><use href="#mC" x="1244.6" y="198.7"/><use href="#mC" x="1246.7" y="197.5"/><use href="#mC" x="1248.7" y="196.3"/><use href="#mC" x="1250.7" y="195.1"/><use href="#mC" x="1252.6" y="193.9"/><use href="#mC" x="1254.5" y="192.7"/><use href="#mC" x="1256.4" y="191.5"/><use href="#mC" x="1258.2" y="190.3"/><use href="#mC" x="1259.9" y="189.1"/><use href="#mC" x="1261.6" y="188"/><use href="#mC" x="1263.3" y="186.9"/><use href="#mC" x="1265" y="185.8"/><use href="#mC" x="1266.6" y="184.7"/><use href="#mC" x="1268.2" y="183.7"/><use href="#mC" x="1269.7" y="182.7"/><use href="#mC" x="1271.2" y="181.7"/>
</g>
<g fill="none" stroke="#0f72bd" stroke-width="3.2" stroke-linejoin="miter">
<path d="M1071.8 283.6L1080.2 278.8L1087.9 274.4L1094.8 270.3L1101.2 266.5L1107.2 263L1112.7 259.7L1117.8 256.7L1122.7 253.8L1127.3 251.1L1131.6 248.6L1135.7 246.2L1139.6 243.9L1143.3 241.7L1146.9 238.9L1150.3 236L1153.5 233.1L1156.7 230.4L1159.7 227.8L1162.6 225.3L1165.4 222.9L1168.1 220.5L1170.7 218.2L1173.3 216.2L1175.7 214.4L1178.1 212.7L1180.4 211L1182.7 209.3L1184.9 207.7L1187 206.1L1189.1 204.6L1191.1 203.1L1193.1 201.6L1195 200.2L1196.9 198.8L1198.7 197.3L1200.5 195.9L1202.3 194.5L1204 193.2L1205.7 191.8L1207.3 190.5L1209 189.3L1210.5 188" stroke-width="8" stroke-linejoin="round" stroke-linecap="butt"/>
<path d="M1080.1 276.4L1087.7 270.8L1094.7 265.8L1101.1 261.2L1107 256.9L1112.5 252.9L1117.7 249.2L1122.5 245.6L1127.1 242.3L1131.4 239.1L1135.5 235.9L1139.4 233L1143.2 230.1L1146.7 227.4L1150.1 224.8L1153.4 222.3L1156.5 219.9L1159.5 217.5L1162.4 215.2L1165.3 212.9L1168 210.7L1170.6 208.6L1173.1 206.6L1175.6 204.6L1178 202.7L1180.3 200.8L1182.5 199L1184.7 197.2L1186.9 195.5L1188.9 193.8L1191 192.2L1192.9 190.6L1194.9 189L1196.8 187.5L1198.6 186" stroke-width="11" stroke-linejoin="round" stroke-linecap="butt"/>
<g fill="#0f72bd"><use href="#mD" x="1087.7" y="270.8"/><use href="#mD" x="1094.7" y="265.8"/><use href="#mD" x="1101.1" y="261.2"/><use href="#mD" x="1107" y="256.9"/><use href="#mD" x="1112.5" y="252.9"/><use href="#mD" x="1117.7" y="249.2"/><use href="#mD" x="1122.5" y="245.6"/><use href="#mD" x="1127.1" y="242.3"/><use href="#mD" x="1131.4" y="239.1"/><use href="#mD" x="1135.5" y="235.9"/><use href="#mD" x="1139.4" y="233"/><use href="#mD" x="1143.2" y="230.1"/><use href="#mD" x="1146.7" y="227.4"/><use href="#mD" x="1150.1" y="224.8"/><use href="#mD" x="1153.4" y="222.3"/><use href="#mD" x="1156.5" y="219.9"/><use href="#mD" x="1159.5" y="217.5"/><use href="#mD" x="1162.4" y="215.2"/><use href="#mD" x="1165.3" y="212.9"/><use href="#mD" x="1168" y="210.7"/><use href="#mD" x="1170.6" y="208.6"/><use href="#mD" x="1173.1" y="206.6"/><use href="#mD" x="1175.6" y="204.6"/><use href="#mD" x="1178" y="202.7"/><use href="#mD" x="1180.3" y="200.8"/><use href="#mD" x="1182.5" y="199"/><use href="#mD" x="1184.7" y="197.2"/><use href="#mD" x="1186.9" y="195.5"/><use href="#mD" x="1188.9" y="193.8"/><use href="#mD" x="1191" y="192.2"/><use href="#mD" x="1192.9" y="190.6"/><use href="#mD" x="1194.9" y="189"/></g>
<path d="M1079.5 270L1087.1 264.9L1094 260.2L1100.4 255.9L1106.4 252L1111.9 248.3L1117 244.8L1121.9 241.6L1126.4 238.3L1130.8 235.2L1134.9 232.2L1138.8 229.4L1142.5 226.6L1146 224.1L1149.4 221.6L1152.7 219.2L1155.8 216.9L1158.9 214.4L1161.8 212.1L1164.6 209.8L1167.3 207.7L1169.9 205.5L1172.4 203.5L1174.9 201.5L1177.3 199.6L1179.6 197.7L1181.9 195.7L1184 193.8L1186.2 192L1188.3 190.2L1190.3 188.5L1192.3 186.8L1194.2 185.1L1196.1 183.5L1197.9 181.9L1199.7 180.4" stroke-width="13" stroke-linejoin="round" stroke-linecap="butt"/>
<g fill="#0f72bd"><use href="#ml" x="1087.1" y="264.9"/><use href="#ml" x="1094" y="260.2"/><use href="#ml" x="1100.4" y="255.9"/><use href="#ml" x="1106.4" y="252"/><use href="#ml" x="1111.9" y="248.3"/><use href="#ml" x="1117" y="244.8"/><use href="#ml" x="1121.9" y="241.6"/><use href="#ml" x="1126.4" y="238.3"/><use href="#ml" x="1130.8" y="235.2"/><use href="#ml" x="1134.9" y="232.2"/><use href="#ml" x="1138.8" y="229.4"/><use href="#ml" x="1142.5" y="226.6"/><use href="#ml" x="1146" y="224.1"/><use href="#ml" x="1149.4" y="221.6"/><use href="#ml" x="1152.7" y="219.2"/><use href="#ml" x="1155.8" y="216.9"/><use href="#ml" x="1158.9" y="214.4"/><use href="#ml" x="1161.8" y="212.1"/><use href="#ml" x="1164.6" y="209.8"/><use href="#ml" x="1167.3" y="207.7"/><use href="#ml" x="1169.9" y="205.5"/><use href="#ml" x="1172.4" y="203.5"/><use href="#ml" x="1174.9" y="201.5"/><use href="#ml" x="1177.3" y="199.6"/><use href="#ml" x="1179.6" y="197.7"/><use href="#ml" x="1181.9" y="195.7"/><use href="#ml" x="1184" y="193.8"/><use href="#ml" x="1186.2" y="192"/><use href="#ml" x="1188.3" y="190.2"/><use href="#ml" x="1190.3" y="188.5"/><use href="#ml" x="1192.3" y="186.8"/><use href="#ml" x="1194.2" y="185.1"/><use href="#ml" x="1196.1" y="183.5"/></g>
<use href="#mS" x="896.1" y="383.2"/><use href="#mS" x="951.5" y="351.8"/><use href="#mS" x="984" y="333.4"/><use href="#mS" x="1007" y="320.4"/><use href="#mS" x="1024.8" y="310.2"/><use href="#mS" x="1039.4" y="302"/><use href="#mS" x="1051.7" y="295"/><use href="#mS" x="1062.4" y="288.9"/><use href="#mS" x="1071.8" y="283.6"/><use href="#mS" x="1080.2" y="278.8"/><use href="#mS" x="1087.9" y="274.4"/><use href="#mS" x="1094.8" y="270.3"/><use href="#mS" x="1101.2" y="266.5"/><use href="#mS" x="1107.2" y="263"/><use href="#mS" x="1112.7" y="259.7"/><use href="#mS" x="1117.8" y="256.7"/><use href="#mS" x="1122.7" y="253.8"/><use href="#mS" x="1127.3" y="251.1"/><use href="#mS" x="1131.6" y="248.6"/><use href="#mS" x="1135.7" y="246.2"/><use href="#mS" x="1139.6" y="243.9"/><use href="#mS" x="1143.3" y="241.7"/><use href="#mS" x="1146.9" y="238.9"/><use href="#mS" x="1150.3" y="236"/><use href="#mS" x="1153.5" y="233.1"/><use href="#mS" x="1156.7" y="230.4"/><use href="#mS" x="1159.7" y="227.8"/><use href="#mS" x="1162.6" y="225.3"/><use href="#mS" x="1165.4" y="222.9"/><use href="#mS" x="1168.1" y="220.5"/><use href="#mS" x="1170.7" y="218.2"/><use href="#mS" x="1173.3" y="216.2"/><use href="#mS" x="1175.7" y="214.4"/><use href="#mS" x="1178.1" y="212.7"/><use href="#mS" x="1180.4" y="211"/><use href="#mS" x="1182.7" y="209.3"/><use href="#mS" x="1184.9" y="207.7"/><use href="#mS" x="1187" y="206.1"/><use href="#mS" x="1189.1" y="204.6"/><use href="#mS" x="1191.1" y="203.1"/><use href="#mS" x="1193.1" y="201.6"/><use href="#mS" x="1195" y="200.2"/><use href="#mS" x="1196.9" y="198.8"/><use href="#mS" x="1198.7" y="197.3"/><use href="#mS" x="1200.5" y="195.9"/><use href="#mS" x="1202.3" y="194.5"/><use href="#mS" x="1204" y="193.2"/><use href="#mS" x="1205.7" y="191.8"/><use href="#mS" x="1207.3" y="190.5"/><use href="#mS" x="1209" y="189.3"/><use href="#mS" x="1210.5" y="188"/>
<use href="#mD" x="896.1" y="397.9"/><use href="#mD" x="951.5" y="358.8"/><use href="#mD" x="983.9" y="338.1"/><use href="#mD" x="1006.9" y="323.4"/><use href="#mD" x="1024.7" y="312"/><use href="#mD" x="1039.3" y="302.7"/><use href="#mD" x="1051.6" y="294.8"/><use href="#mD" x="1062.3" y="287.9"/><use href="#mD" x="1071.7" y="281.9"/><use href="#mD" x="1080.1" y="276.4"/><use href="#mD" x="1087.7" y="270.8"/><use href="#mD" x="1094.7" y="265.8"/><use href="#mD" x="1101.1" y="261.2"/><use href="#mD" x="1107" y="256.9"/><use href="#mD" x="1112.5" y="252.9"/><use href="#mD" x="1117.7" y="249.2"/><use href="#mD" x="1122.5" y="245.6"/><use href="#mD" x="1127.1" y="242.3"/><use href="#mD" x="1131.4" y="239.1"/><use href="#mD" x="1135.5" y="235.9"/><use href="#mD" x="1139.4" y="233"/><use href="#mD" x="1143.2" y="230.1"/><use href="#mD" x="1146.7" y="227.4"/><use href="#mD" x="1150.1" y="224.8"/><use href="#mD" x="1153.4" y="222.3"/><use href="#mD" x="1156.5" y="219.9"/><use href="#mD" x="1159.5" y="217.5"/><use href="#mD" x="1162.4" y="215.2"/><use href="#mD" x="1165.3" y="212.9"/><use href="#mD" x="1168" y="210.7"/><use href="#mD" x="1170.6" y="208.6"/><use href="#mD" x="1173.1" y="206.6"/><use href="#mD" x="1175.6" y="204.6"/><use href="#mD" x="1178" y="202.7"/><use href="#mD" x="1180.3" y="200.8"/><use href="#mD" x="1182.5" y="199"/><use href="#mD" x="1184.7" y="197.2"/><use href="#mD" x="1186.9" y="195.5"/><use href="#mD" x="1188.9" y="193.8"/><use href="#mD" x="1191" y="192.2"/><use href="#mD" x="1192.9" y="190.6"/><use href="#mD" x="1194.9" y="189"/><use href="#mD" x="1196.8" y="187.5"/><use href="#mD" x="1198.6" y="186"/>
<use href="#ml" x="896.1" y="376.7"/><use href="#ml" x="951.1" y="354.7"/><use href="#ml" x="983.4" y="336.2"/><use href="#ml" x="1006.3" y="320.9"/><use href="#ml" x="1024.1" y="308.9"/><use href="#ml" x="1038.7" y="297.3"/><use href="#ml" x="1051" y="289"/><use href="#ml" x="1061.7" y="281.9"/><use href="#ml" x="1071.1" y="275.6"/><use href="#ml" x="1079.5" y="270"/><use href="#ml" x="1087.1" y="264.9"/><use href="#ml" x="1094" y="260.2"/><use href="#ml" x="1100.4" y="255.9"/><use href="#ml" x="1106.4" y="252"/><use href="#ml" x="1111.9" y="248.3"/><use href="#ml" x="1117" y="244.8"/><use href="#ml" x="1121.9" y="241.6"/><use href="#ml" x="1126.4" y="238.3"/><use href="#ml" x="1130.8" y="235.2"/><use href="#ml" x="1134.9" y="232.2"/><use href="#ml" x="1138.8" y="229.4"/><use href="#ml" x="1142.5" y="226.6"/><use href="#ml" x="1146" y="224.1"/><use href="#ml" x="1149.4" y="221.6"/><use href="#ml" x="1152.7" y="219.2"/><use href="#ml" x="1155.8" y="216.9"/><use href="#ml" x="1158.9" y="214.4"/><use href="#ml" x="1161.8" y="212.1"/><use href="#ml" x="1164.6" y="209.8"/><use href="#ml" x="1167.3" y="207.7"/><use href="#ml" x="1169.9" y="205.5"/><use href="#ml" x="1172.4" y="203.5"/><use href="#ml" x="1174.9" y="201.5"/><use href="#ml" x="1177.3" y="199.6"/><use href="#ml" x="1179.6" y="197.7"/><use href="#ml" x="1181.9" y="195.7"/><use href="#ml" x="1184" y="193.8"/><use href="#ml" x="1186.2" y="192"/><use href="#ml" x="1188.3" y="190.2"/><use href="#ml" x="1190.3" y="188.5"/><use href="#ml" x="1192.3" y="186.8"/><use href="#ml" x="1194.2" y="185.1"/><use href="#ml" x="1196.1" y="183.5"/><use href="#ml" x="1197.9" y="181.9"/><use href="#ml" x="1199.7" y="180.4"/>
</g>
<g fill="none" stroke="#ed1c24" stroke-width="3.3">
<path d="M1189.2 325L1368.5 224.3"/>
<path d="M1238 297.8L1318.2 298.4L1318.2 253"/>
</g>
<g fill="#ed1c24" font-family='"Liberation Serif", serif' font-size="100" opacity="0.995" text-rendering="geometricPrecision">
<text transform="translate(1327.41 290.00) scale(0.3771 0.4318)">1</text>
<text transform="translate(1263.95 339.60) scale(0.5125 0.4554)">2</text>
</g>
<g fill="#231f20" font-family='"Liberation Serif", serif' font-size="100" opacity="0.995" text-rendering="geometricPrecision">
<text transform="translate(78.34 552.79) scale(0.4905 0.4552)">0</text>
<text transform="translate(252.95 552.80) scale(0.4394 0.4485)">100</text>
<text transform="translate(445.71 552.79) scale(0.4472 0.4552)">200</text>
<text transform="translate(55.77 181.44) scale(0.4268 0.4591)">3</text>
<text transform="translate(54.65 294.00) scale(0.5125 0.4585)">2</text>
<text transform="translate(57.26 404.00) scale(0.3714 0.4515)">1</text>
<text transform="translate(53.79 513.70) scale(0.4786 0.4478)">0</text>
<text transform="translate(-0.65 37.40) scale(0.4885 0.4478)">(</text>
<text transform="translate(14.21 37.47) scale(0.4953 0.4271)" font-style="italic">a</text>
<text transform="translate(36.80 37.40) scale(0.5000 0.4478)">)</text>
<text transform="translate(713.10 46.97) scale(0.5000 0.4489)">(</text>
<text transform="translate(728.39 46.86) scale(0.4535 0.4429)" font-style="italic">b</text>
<text transform="translate(750.16 46.97) scale(0.4808 0.4489)">)</text>
<text transform="translate(325.59 601.01) scale(0.5269 0.4912)" font-style="italic">t</text>
<text transform="translate(1091.29 613.91) scale(0.5269 0.4912)" font-style="italic">t</text>
<text transform="translate(359.62 601.63) scale(0.4192 0.4889)">(</text>
<text transform="translate(1125.32 614.53) scale(0.4192 0.4889)">(</text>
<text transform="translate(373.58 601.08) scale(0.4806 0.4208)">s</text>
<text transform="translate(1139.28 613.98) scale(0.4806 0.4208)">s</text>
<text transform="translate(392.73 601.63) scale(0.4231 0.4889)">)</text>
<text transform="translate(1158.43 614.53) scale(0.4231 0.4889)">)</text>
<g transform="rotate(-90)">
<text transform="translate(-392.69 32.59) scale(0.3885 0.4149)" font-style="italic">y</text>
<text transform="translate(-392.19 746.89) scale(0.3885 0.4149)" font-style="italic">y</text>
<text transform="translate(-374.71 40.12) scale(0.3377 0.2806)">front</text>
<text transform="translate(-374.21 754.42) scale(0.3377 0.2806)">front</text>
<text transform="translate(-290.35 33.58) scale(0.4115 0.4867)">(</text>
<text transform="translate(-289.85 747.88) scale(0.4115 0.4867)">(</text>
<text transform="translate(-276.12 33.10) scale(0.4618 0.4170)">mm</text>
<text transform="translate(-275.62 747.40) scale(0.4618 0.4170)">mm</text>
<text transform="translate(-202.42 33.58) scale(0.4077 0.4867)">)</text>
<text transform="translate(-201.92 747.88) scale(0.4077 0.4867)">)</text>
</g>
</g>
<g fill="#231f20" font-family='"Liberation Serif", serif' font-size="100" opacity="0.995" text-rendering="geometricPrecision">
<circle cx="367.6" cy="358.4" r="7.2" fill="none" stroke="#ecb020" stroke-width="2.5"/>
<text transform="translate(408.65 368.30) scale(0.5074 0.4185)" font-style="italic">T</text>
<text transform="translate(431.13 375.30) scale(0.3677 0.3042)">s</text>
<text transform="translate(461.08 372.30) scale(0.5638 0.4240)">=</text>
<text transform="translate(503.64 374.18) scale(0.5128 0.4800)">−</text>
<text transform="translate(532.88 368.68) scale(0.3875 0.4197)">5</text>
<text transform="translate(553.00 364.72) scale(0.3400 0.3533)">°</text>
<text transform="translate(566.64 368.66) scale(0.4597 0.4394)" font-style="italic">C</text>
<circle cx="367.6" cy="406.8" r="7.2" fill="none" stroke="#231f20" stroke-width="2.5"/>
<text transform="translate(408.65 416.75) scale(0.5074 0.4185)" font-style="italic">T</text>
<text transform="translate(431.13 423.75) scale(0.3677 0.3042)">s</text>
<text transform="translate(461.08 420.75) scale(0.5638 0.4240)">=</text>
<text transform="translate(503.64 422.63) scale(0.5128 0.4800)">−</text>
<text transform="translate(533.24 416.54) scale(0.3954 0.4029)">10</text>
<text transform="translate(572.60 413.17) scale(0.3400 0.3533)">°</text>
<text transform="translate(586.24 417.11) scale(0.4597 0.4394)" font-style="italic">C</text>
<circle cx="367.6" cy="455.3" r="7.2" fill="none" stroke="#0f72bd" stroke-width="2.5"/>
<text transform="translate(408.65 465.20) scale(0.5074 0.4185)" font-style="italic">T</text>
<text transform="translate(431.13 472.20) scale(0.3677 0.3042)">s</text>
<text transform="translate(461.08 469.20) scale(0.5638 0.4240)">=</text>
<text transform="translate(503.64 471.08) scale(0.5128 0.4800)">−</text>
<text transform="translate(533.01 464.98) scale(0.3978 0.4090)">20</text>
<text transform="translate(572.60 461.62) scale(0.3400 0.3533)">°</text>
<text transform="translate(586.24 465.56) scale(0.4597 0.4394)" font-style="italic">C</text>
</g>
<g fill="#231f20" font-family='"Liberation Serif", serif' font-size="100" opacity="0.995" text-rendering="geometricPrecision">
<circle cx="884.5" cy="121.2" r="7.2" fill="none" stroke="#ecb020" stroke-width="2.5"/>
<text transform="translate(899.25 131.10) scale(0.5074 0.4185)" font-style="italic">T</text>
<text transform="translate(921.73 138.10) scale(0.3677 0.3042)">s</text>
<text transform="translate(951.68 135.10) scale(0.5638 0.4240)">=</text>
<text transform="translate(994.24 136.98) scale(0.5128 0.4800)">−</text>
<text transform="translate(1023.48 131.48) scale(0.3875 0.4197)">5</text>
<text transform="translate(1043.60 127.52) scale(0.3400 0.3533)">°</text>
<text transform="translate(1057.24 131.46) scale(0.4597 0.4394)" font-style="italic">C</text>
<circle cx="884.5" cy="169.7" r="7.2" fill="none" stroke="#231f20" stroke-width="2.5"/>
<text transform="translate(899.25 179.55) scale(0.5074 0.4185)" font-style="italic">T</text>
<text transform="translate(921.73 186.55) scale(0.3677 0.3042)">s</text>
<text transform="translate(951.68 183.55) scale(0.5638 0.4240)">=</text>
<text transform="translate(994.24 185.43) scale(0.5128 0.4800)">−</text>
<text transform="translate(1023.84 179.34) scale(0.3954 0.4029)">10</text>
<text transform="translate(1063.20 175.97) scale(0.3400 0.3533)">°</text>
<text transform="translate(1076.84 179.91) scale(0.4597 0.4394)" font-style="italic">C</text>
<circle cx="884.5" cy="218.1" r="7.2" fill="none" stroke="#0f72bd" stroke-width="2.5"/>
<text transform="translate(899.25 228.00) scale(0.5074 0.4185)" font-style="italic">T</text>
<text transform="translate(921.73 235.00) scale(0.3677 0.3042)">s</text>
<text transform="translate(951.68 232.00) scale(0.5638 0.4240)">=</text>
<text transform="translate(994.24 233.88) scale(0.5128 0.4800)">−</text>
<text transform="translate(1023.61 227.78) scale(0.3978 0.4090)">20</text>
<text transform="translate(1063.20 224.42) scale(0.3400 0.3533)">°</text>
<text transform="translate(1076.84 228.36) scale(0.4597 0.4394)" font-style="italic">C</text>
</g>
<g fill="#231f20" font-family='"Liberation Serif", serif' font-size="100" opacity="0.995" text-rendering="geometricPrecision">
<text transform="translate(882.01 565.80) scale(0.4437 0.4515)">10</text>
<text transform="translate(924.48 543.39) scale(0.3810 0.3537)">0</text>
<text transform="translate(1064.31 565.80) scale(0.4437 0.4515)">10</text>
<text transform="translate(1109.20 544.10) scale(0.2886 0.3591)">1</text>
<text transform="translate(1249.51 565.80) scale(0.4437 0.4515)">10</text>
<text transform="translate(1291.90 544.10) scale(0.4000 0.3646)">2</text>
<text transform="translate(779.22 105.43) scale(0.4425 0.4353)">10</text>
<text transform="translate(823.85 84.10) scale(0.2943 0.3591)">1</text>
<text transform="translate(779.01 312.62) scale(0.4437 0.4397)">10</text>
<text transform="translate(821.10 290.67) scale(0.4000 0.3627)">0</text>
<text transform="translate(770.07 519.52) scale(0.4368 0.4397)">10</text>
<text transform="translate(813.28 498.30) scale(0.3301 0.3591)">-1</text>
</g>
</svg>
</body></html>
